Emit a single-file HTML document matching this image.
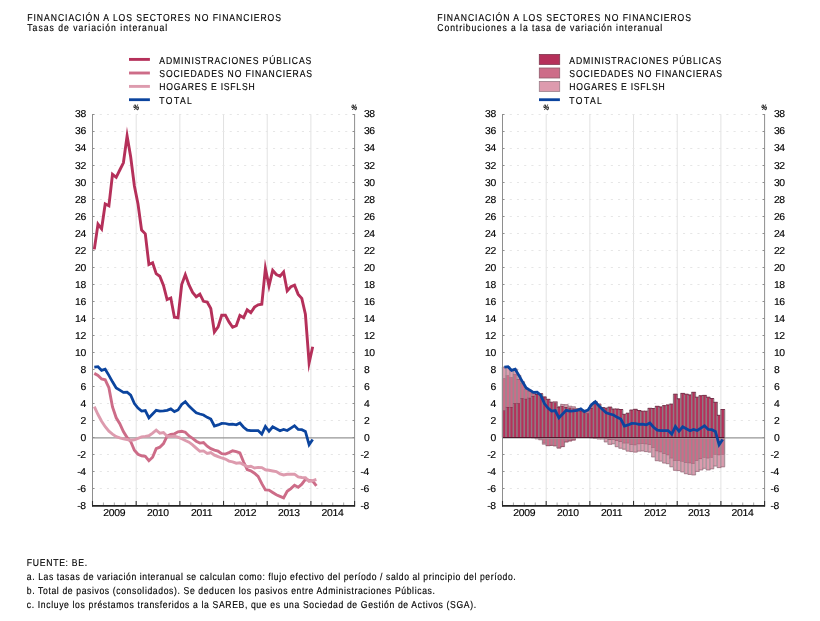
<!DOCTYPE html>
<html lang="es"><head><meta charset="utf-8"><title>Financiación a los sectores no financieros</title>
<style>html,body{margin:0;padding:0;background:#fff}svg{display:block}text{text-rendering:geometricPrecision;font-family:"Liberation Sans",sans-serif;font-size:10px;fill:#000;stroke:#000;stroke-width:0.15px}.ax{font-size:10px}.pc{font-size:8px;font-weight:bold;font-style:italic}</style></head><body>
<svg width="820" height="621" viewBox="0 0 820 621">
<rect width="820" height="621" fill="#fff"/>
<text transform="translate(27.3 21.1) scale(0.86 1)" textLength="295.0">FINANCIACIÓN A LOS SECTORES NO FINANCIEROS</text>
<text transform="translate(27.3 31.1) scale(0.86 1)" textLength="162.7">Tasas de variación interanual</text>
<text transform="translate(437.3 21.1) scale(0.86 1)" textLength="295.0">FINANCIACIÓN A LOS SECTORES NO FINANCIEROS</text>
<text transform="translate(437.3 31.1) scale(0.86 1)" textLength="261.6">Contribuciones a la tasa de variación interanual</text>
<line x1="129.0" y1="59.4" x2="149.9" y2="59.4" stroke="#b5305a" stroke-width="2.9"/>
<line x1="129.0" y1="73.0" x2="149.9" y2="73.0" stroke="#cd6c88" stroke-width="2.9"/>
<line x1="129.0" y1="86.4" x2="149.9" y2="86.4" stroke="#dd9bae" stroke-width="2.9"/>
<line x1="129.0" y1="99.7" x2="149.9" y2="99.7" stroke="#0b449e" stroke-width="2.8"/>
<text transform="translate(159.3 64.2) scale(0.86 1)" textLength="176.7">ADMINISTRACIONES PÚBLICAS</text>
<text transform="translate(159.3 76.7) scale(0.86 1)" textLength="177.6">SOCIEDADES NO FINANCIERAS</text>
<text transform="translate(159.3 90.1) scale(0.86 1)" textLength="110.9">HOGARES E ISFLSH</text>
<text transform="translate(159.3 103.5) scale(0.86 1)" textLength="37.8">TOTAL</text>
<rect x="539.3" y="54.4" width="20.4" height="10" fill="#b5305a" stroke="#80384f" stroke-width="0.8"/>
<rect x="539.3" y="68.0" width="20.4" height="10" fill="#cd6c88" stroke="#8f5c6d" stroke-width="0.8"/>
<rect x="539.3" y="81.4" width="20.4" height="10" fill="#dd9bae" stroke="#9a7c88" stroke-width="0.8"/>
<line x1="539.0" y1="99.7" x2="559.9" y2="99.7" stroke="#0b449e" stroke-width="2.8"/>
<text transform="translate(569.3 64.2) scale(0.86 1)" textLength="176.7">ADMINISTRACIONES PÚBLICAS</text>
<text transform="translate(569.3 76.7) scale(0.86 1)" textLength="177.6">SOCIEDADES NO FINANCIERAS</text>
<text transform="translate(569.3 90.1) scale(0.86 1)" textLength="110.9">HOGARES E ISFLSH</text>
<text transform="translate(569.3 103.5) scale(0.86 1)" textLength="37.8">TOTAL</text>
<line x1="136.18" y1="114.5" x2="136.18" y2="505.5" stroke="#e2e2e2" stroke-width="1"/>
<line x1="179.86" y1="114.5" x2="179.86" y2="505.5" stroke="#e2e2e2" stroke-width="1"/>
<line x1="223.54" y1="114.5" x2="223.54" y2="505.5" stroke="#e2e2e2" stroke-width="1"/>
<line x1="267.22" y1="114.5" x2="267.22" y2="505.5" stroke="#e2e2e2" stroke-width="1"/>
<line x1="310.90" y1="114.5" x2="310.90" y2="505.5" stroke="#e2e2e2" stroke-width="1"/>
<line x1="92.50" y1="488.50" x2="354.60" y2="488.50" stroke="#e6e6e6" stroke-width="1" stroke-dasharray="2.1 5.12"/>
<line x1="92.50" y1="471.50" x2="354.60" y2="471.50" stroke="#e6e6e6" stroke-width="1" stroke-dasharray="2.1 5.12"/>
<line x1="92.50" y1="454.50" x2="354.60" y2="454.50" stroke="#e6e6e6" stroke-width="1" stroke-dasharray="2.1 5.12"/>
<line x1="92.50" y1="420.50" x2="354.60" y2="420.50" stroke="#e6e6e6" stroke-width="1" stroke-dasharray="2.1 5.12"/>
<line x1="92.50" y1="403.50" x2="354.60" y2="403.50" stroke="#e6e6e6" stroke-width="1" stroke-dasharray="2.1 5.12"/>
<line x1="92.50" y1="386.50" x2="354.60" y2="386.50" stroke="#e6e6e6" stroke-width="1" stroke-dasharray="2.1 5.12"/>
<line x1="92.50" y1="369.50" x2="354.60" y2="369.50" stroke="#e6e6e6" stroke-width="1" stroke-dasharray="2.1 5.12"/>
<line x1="92.50" y1="352.50" x2="354.60" y2="352.50" stroke="#e6e6e6" stroke-width="1" stroke-dasharray="2.1 5.12"/>
<line x1="92.50" y1="335.50" x2="354.60" y2="335.50" stroke="#e6e6e6" stroke-width="1" stroke-dasharray="2.1 5.12"/>
<line x1="92.50" y1="318.50" x2="354.60" y2="318.50" stroke="#e6e6e6" stroke-width="1" stroke-dasharray="2.1 5.12"/>
<line x1="92.50" y1="301.50" x2="354.60" y2="301.50" stroke="#e6e6e6" stroke-width="1" stroke-dasharray="2.1 5.12"/>
<line x1="92.50" y1="284.50" x2="354.60" y2="284.50" stroke="#e6e6e6" stroke-width="1" stroke-dasharray="2.1 5.12"/>
<line x1="92.50" y1="267.50" x2="354.60" y2="267.50" stroke="#e6e6e6" stroke-width="1" stroke-dasharray="2.1 5.12"/>
<line x1="92.50" y1="250.50" x2="354.60" y2="250.50" stroke="#e6e6e6" stroke-width="1" stroke-dasharray="2.1 5.12"/>
<line x1="92.50" y1="233.50" x2="354.60" y2="233.50" stroke="#e6e6e6" stroke-width="1" stroke-dasharray="2.1 5.12"/>
<line x1="92.50" y1="216.50" x2="354.60" y2="216.50" stroke="#e6e6e6" stroke-width="1" stroke-dasharray="2.1 5.12"/>
<line x1="92.50" y1="199.50" x2="354.60" y2="199.50" stroke="#e6e6e6" stroke-width="1" stroke-dasharray="2.1 5.12"/>
<line x1="92.50" y1="182.50" x2="354.60" y2="182.50" stroke="#e6e6e6" stroke-width="1" stroke-dasharray="2.1 5.12"/>
<line x1="92.50" y1="165.50" x2="354.60" y2="165.50" stroke="#e6e6e6" stroke-width="1" stroke-dasharray="2.1 5.12"/>
<line x1="92.50" y1="148.50" x2="354.60" y2="148.50" stroke="#e6e6e6" stroke-width="1" stroke-dasharray="2.1 5.12"/>
<line x1="92.50" y1="131.50" x2="354.60" y2="131.50" stroke="#e6e6e6" stroke-width="1" stroke-dasharray="2.1 5.12"/>
<line x1="92.50" y1="114.50" x2="354.60" y2="114.50" stroke="#e6e6e6" stroke-width="1" stroke-dasharray="2.1 5.12"/>
<line x1="92.50" y1="437.80" x2="354.60" y2="437.80" stroke="#969696" stroke-width="1.3"/>
<g fill="none" stroke-linejoin="miter" stroke-miterlimit="10" stroke-linecap="butt">
<polyline points="94.3,373.4 98.0,375.4 101.6,379.0 105.2,379.8 108.9,387.7 112.5,406.9 116.2,417.8 119.8,423.7 123.4,431.5 127.1,437.6 130.7,441.5 134.4,450.2 138.0,454.3 141.6,455.8 145.3,456.3 148.9,460.7 152.6,457.2 156.2,448.6 159.8,447.2 163.5,443.6 167.1,436.2 170.8,434.5 174.4,433.8 178.0,431.8 181.7,431.3 185.3,432.2 189.0,436.0 192.6,438.4 196.2,441.2 199.9,443.1 203.5,442.5 207.2,446.2 210.8,448.7 214.4,450.2 218.1,451.2 221.7,453.6 225.4,454.1 229.0,452.6 232.6,450.8 236.3,451.6 239.9,452.9 243.6,462.0 247.2,469.6 250.8,470.8 254.5,473.2 258.1,476.3 261.8,483.6 265.4,489.9 269.0,490.1 272.7,492.5 276.3,494.8 280.0,496.3 283.6,497.9 287.2,491.3 290.9,488.6 294.5,485.2 298.2,487.3 301.8,484.2 305.4,479.3 309.1,480.3 312.7,481.1 316.4,485.9" stroke="#cd6c88" stroke-width="2.9"/>
<polyline points="94.3,406.6 98.0,414.5 101.6,421.2 105.2,426.7 108.9,431.2 112.5,434.1 116.2,436.6 119.8,437.9 123.4,438.8 127.1,439.5 130.7,440.2 134.4,439.8 138.0,438.4 141.6,436.9 145.3,436.4 148.9,435.8 152.6,433.2 156.2,430.2 159.8,433.2 163.5,432.5 167.1,436.2 170.8,436.6 174.4,436.2 178.0,437.1 181.7,438.8 185.3,440.5 189.0,442.2 192.6,444.9 196.2,448.1 199.9,451.3 203.5,450.9 207.2,453.5 210.8,452.6 214.4,455.1 218.1,456.6 221.7,458.0 225.4,459.1 229.0,461.1 232.6,461.8 236.3,463.2 239.9,462.7 243.6,464.7 247.2,466.6 250.8,466.3 254.5,468.0 258.1,467.4 261.8,467.6 265.4,469.8 269.0,470.3 272.7,471.0 276.3,471.6 280.0,473.8 283.6,475.0 287.2,474.3 290.9,474.2 294.5,474.1 298.2,476.9 301.8,477.5 305.4,477.7 309.1,481.4 312.7,480.6 316.4,479.5" stroke="#dd9bae" stroke-width="2.9"/>
<polyline points="94.3,249.4 98.0,224.1 101.6,228.8 105.2,204.0 108.9,205.8 112.5,174.3 116.2,177.3 119.8,170.0 123.4,162.8 127.1,136.0 130.7,157.0 134.4,186.0 138.0,204.0 141.6,230.1 145.3,233.8 148.9,264.5 152.6,262.8 156.2,273.7 159.8,276.2 163.5,285.4 167.1,299.5 170.8,298.0 174.4,317.2 178.0,317.9 181.7,284.5 185.3,274.8 189.0,285.0 192.6,292.5 196.2,296.8 199.9,294.2 203.5,301.3 207.2,302.1 210.8,308.5 214.4,332.0 218.1,326.9 221.7,315.2 225.4,315.2 229.0,321.9 232.6,327.2 236.3,325.6 239.9,315.5 243.6,317.7 247.2,309.8 250.8,312.7 254.5,307.1 258.1,304.8 261.8,304.3 265.4,268.4 269.0,286.0 272.7,270.3 276.3,274.5 280.0,276.2 283.6,272.0 287.2,290.9 290.9,286.7 294.5,285.1 298.2,294.4 301.8,298.4 305.4,314.3 309.1,362.9 312.7,346.7" stroke="#b5305a" stroke-width="2.9"/>
<polyline points="94.3,367.1 98.0,366.7 101.6,370.4 105.2,369.2 108.9,375.4 112.5,381.8 116.2,388.0 119.8,390.2 123.4,392.4 127.1,392.2 130.7,395.2 134.4,403.6 138.0,408.1 141.6,411.1 145.3,410.6 148.9,417.8 152.6,414.0 156.2,410.3 159.8,411.1 163.5,410.8 167.1,410.3 170.8,408.9 174.4,411.6 178.0,409.9 181.7,404.4 185.3,401.6 189.0,406.1 192.6,409.4 196.2,412.8 199.9,414.0 203.5,415.0 207.2,417.3 210.8,419.0 214.4,426.0 218.1,424.9 221.7,423.4 225.4,423.5 229.0,424.3 232.6,424.2 236.3,424.8 239.9,423.0 243.6,427.2 247.2,430.1 250.8,430.5 254.5,430.5 258.1,430.5 261.8,434.1 265.4,426.4 269.0,431.2 272.7,426.8 276.3,428.8 280.0,430.8 283.6,429.5 287.2,430.5 290.9,428.1 294.5,425.7 298.2,429.5 301.8,429.7 305.4,431.5 309.1,444.7 312.7,439.5" stroke="#0b449e" stroke-width="2.75"/>
</g>
<line x1="92.50" y1="114.00" x2="92.50" y2="506.50" stroke="#8e8e8e" stroke-width="1"/>
<line x1="354.60" y1="114.00" x2="354.60" y2="506.50" stroke="#8e8e8e" stroke-width="1"/>
<line x1="92.50" y1="505.50" x2="94.50" y2="505.50" stroke="#8e8e8e" stroke-width="1"/>
<line x1="352.60" y1="505.50" x2="354.60" y2="505.50" stroke="#8e8e8e" stroke-width="1"/>
<line x1="92.50" y1="488.50" x2="94.50" y2="488.50" stroke="#8e8e8e" stroke-width="1"/>
<line x1="352.60" y1="488.50" x2="354.60" y2="488.50" stroke="#8e8e8e" stroke-width="1"/>
<line x1="92.50" y1="471.50" x2="94.50" y2="471.50" stroke="#8e8e8e" stroke-width="1"/>
<line x1="352.60" y1="471.50" x2="354.60" y2="471.50" stroke="#8e8e8e" stroke-width="1"/>
<line x1="92.50" y1="454.50" x2="94.50" y2="454.50" stroke="#8e8e8e" stroke-width="1"/>
<line x1="352.60" y1="454.50" x2="354.60" y2="454.50" stroke="#8e8e8e" stroke-width="1"/>
<line x1="92.50" y1="437.50" x2="94.50" y2="437.50" stroke="#8e8e8e" stroke-width="1"/>
<line x1="352.60" y1="437.50" x2="354.60" y2="437.50" stroke="#8e8e8e" stroke-width="1"/>
<line x1="92.50" y1="420.50" x2="94.50" y2="420.50" stroke="#8e8e8e" stroke-width="1"/>
<line x1="352.60" y1="420.50" x2="354.60" y2="420.50" stroke="#8e8e8e" stroke-width="1"/>
<line x1="92.50" y1="403.50" x2="94.50" y2="403.50" stroke="#8e8e8e" stroke-width="1"/>
<line x1="352.60" y1="403.50" x2="354.60" y2="403.50" stroke="#8e8e8e" stroke-width="1"/>
<line x1="92.50" y1="386.50" x2="94.50" y2="386.50" stroke="#8e8e8e" stroke-width="1"/>
<line x1="352.60" y1="386.50" x2="354.60" y2="386.50" stroke="#8e8e8e" stroke-width="1"/>
<line x1="92.50" y1="369.50" x2="94.50" y2="369.50" stroke="#8e8e8e" stroke-width="1"/>
<line x1="352.60" y1="369.50" x2="354.60" y2="369.50" stroke="#8e8e8e" stroke-width="1"/>
<line x1="92.50" y1="352.50" x2="94.50" y2="352.50" stroke="#8e8e8e" stroke-width="1"/>
<line x1="352.60" y1="352.50" x2="354.60" y2="352.50" stroke="#8e8e8e" stroke-width="1"/>
<line x1="92.50" y1="335.50" x2="94.50" y2="335.50" stroke="#8e8e8e" stroke-width="1"/>
<line x1="352.60" y1="335.50" x2="354.60" y2="335.50" stroke="#8e8e8e" stroke-width="1"/>
<line x1="92.50" y1="318.50" x2="94.50" y2="318.50" stroke="#8e8e8e" stroke-width="1"/>
<line x1="352.60" y1="318.50" x2="354.60" y2="318.50" stroke="#8e8e8e" stroke-width="1"/>
<line x1="92.50" y1="301.50" x2="94.50" y2="301.50" stroke="#8e8e8e" stroke-width="1"/>
<line x1="352.60" y1="301.50" x2="354.60" y2="301.50" stroke="#8e8e8e" stroke-width="1"/>
<line x1="92.50" y1="284.50" x2="94.50" y2="284.50" stroke="#8e8e8e" stroke-width="1"/>
<line x1="352.60" y1="284.50" x2="354.60" y2="284.50" stroke="#8e8e8e" stroke-width="1"/>
<line x1="92.50" y1="267.50" x2="94.50" y2="267.50" stroke="#8e8e8e" stroke-width="1"/>
<line x1="352.60" y1="267.50" x2="354.60" y2="267.50" stroke="#8e8e8e" stroke-width="1"/>
<line x1="92.50" y1="250.50" x2="94.50" y2="250.50" stroke="#8e8e8e" stroke-width="1"/>
<line x1="352.60" y1="250.50" x2="354.60" y2="250.50" stroke="#8e8e8e" stroke-width="1"/>
<line x1="92.50" y1="233.50" x2="94.50" y2="233.50" stroke="#8e8e8e" stroke-width="1"/>
<line x1="352.60" y1="233.50" x2="354.60" y2="233.50" stroke="#8e8e8e" stroke-width="1"/>
<line x1="92.50" y1="216.50" x2="94.50" y2="216.50" stroke="#8e8e8e" stroke-width="1"/>
<line x1="352.60" y1="216.50" x2="354.60" y2="216.50" stroke="#8e8e8e" stroke-width="1"/>
<line x1="92.50" y1="199.50" x2="94.50" y2="199.50" stroke="#8e8e8e" stroke-width="1"/>
<line x1="352.60" y1="199.50" x2="354.60" y2="199.50" stroke="#8e8e8e" stroke-width="1"/>
<line x1="92.50" y1="182.50" x2="94.50" y2="182.50" stroke="#8e8e8e" stroke-width="1"/>
<line x1="352.60" y1="182.50" x2="354.60" y2="182.50" stroke="#8e8e8e" stroke-width="1"/>
<line x1="92.50" y1="165.50" x2="94.50" y2="165.50" stroke="#8e8e8e" stroke-width="1"/>
<line x1="352.60" y1="165.50" x2="354.60" y2="165.50" stroke="#8e8e8e" stroke-width="1"/>
<line x1="92.50" y1="148.50" x2="94.50" y2="148.50" stroke="#8e8e8e" stroke-width="1"/>
<line x1="352.60" y1="148.50" x2="354.60" y2="148.50" stroke="#8e8e8e" stroke-width="1"/>
<line x1="92.50" y1="131.50" x2="94.50" y2="131.50" stroke="#8e8e8e" stroke-width="1"/>
<line x1="352.60" y1="131.50" x2="354.60" y2="131.50" stroke="#8e8e8e" stroke-width="1"/>
<line x1="92.50" y1="114.50" x2="94.50" y2="114.50" stroke="#8e8e8e" stroke-width="1"/>
<line x1="352.60" y1="114.50" x2="354.60" y2="114.50" stroke="#8e8e8e" stroke-width="1"/>
<line x1="92.50" y1="500.90" x2="92.50" y2="505.50" stroke="#333" stroke-width="1.1"/>
<line x1="103.42" y1="502.50" x2="103.42" y2="505.50" stroke="#a8a8a8" stroke-width="1"/>
<line x1="114.34" y1="502.50" x2="114.34" y2="505.50" stroke="#a8a8a8" stroke-width="1"/>
<line x1="125.26" y1="502.50" x2="125.26" y2="505.50" stroke="#a8a8a8" stroke-width="1"/>
<line x1="136.18" y1="500.90" x2="136.18" y2="505.50" stroke="#333" stroke-width="1.1"/>
<line x1="147.10" y1="502.50" x2="147.10" y2="505.50" stroke="#a8a8a8" stroke-width="1"/>
<line x1="158.02" y1="502.50" x2="158.02" y2="505.50" stroke="#a8a8a8" stroke-width="1"/>
<line x1="168.94" y1="502.50" x2="168.94" y2="505.50" stroke="#a8a8a8" stroke-width="1"/>
<line x1="179.86" y1="500.90" x2="179.86" y2="505.50" stroke="#333" stroke-width="1.1"/>
<line x1="190.78" y1="502.50" x2="190.78" y2="505.50" stroke="#a8a8a8" stroke-width="1"/>
<line x1="201.70" y1="502.50" x2="201.70" y2="505.50" stroke="#a8a8a8" stroke-width="1"/>
<line x1="212.62" y1="502.50" x2="212.62" y2="505.50" stroke="#a8a8a8" stroke-width="1"/>
<line x1="223.54" y1="500.90" x2="223.54" y2="505.50" stroke="#333" stroke-width="1.1"/>
<line x1="234.46" y1="502.50" x2="234.46" y2="505.50" stroke="#a8a8a8" stroke-width="1"/>
<line x1="245.38" y1="502.50" x2="245.38" y2="505.50" stroke="#a8a8a8" stroke-width="1"/>
<line x1="256.30" y1="502.50" x2="256.30" y2="505.50" stroke="#a8a8a8" stroke-width="1"/>
<line x1="267.22" y1="500.90" x2="267.22" y2="505.50" stroke="#333" stroke-width="1.1"/>
<line x1="278.14" y1="502.50" x2="278.14" y2="505.50" stroke="#a8a8a8" stroke-width="1"/>
<line x1="289.06" y1="502.50" x2="289.06" y2="505.50" stroke="#a8a8a8" stroke-width="1"/>
<line x1="299.98" y1="502.50" x2="299.98" y2="505.50" stroke="#a8a8a8" stroke-width="1"/>
<line x1="310.90" y1="500.90" x2="310.90" y2="505.50" stroke="#333" stroke-width="1.1"/>
<line x1="321.82" y1="502.50" x2="321.82" y2="505.50" stroke="#a8a8a8" stroke-width="1"/>
<line x1="332.74" y1="502.50" x2="332.74" y2="505.50" stroke="#a8a8a8" stroke-width="1"/>
<line x1="343.66" y1="502.50" x2="343.66" y2="505.50" stroke="#a8a8a8" stroke-width="1"/>
<line x1="354.58" y1="500.90" x2="354.58" y2="505.50" stroke="#333" stroke-width="1.1"/>
<line x1="92.00" y1="505.90" x2="355.10" y2="505.90" stroke="#222" stroke-width="1.9"/>
<text transform="translate(77.3 508.9) scale(1.04 1)" textLength="8.5" class="ax">-8</text>
<text transform="translate(360.5 508.9) scale(1.04 1)" textLength="8.5" class="ax">-8</text>
<text transform="translate(77.3 491.9) scale(1.04 1)" textLength="8.5" class="ax">-6</text>
<text transform="translate(360.5 491.9) scale(1.04 1)" textLength="8.5" class="ax">-6</text>
<text transform="translate(77.3 474.9) scale(1.04 1)" textLength="8.5" class="ax">-4</text>
<text transform="translate(360.5 474.9) scale(1.04 1)" textLength="8.5" class="ax">-4</text>
<text transform="translate(77.3 457.9) scale(1.04 1)" textLength="8.5" class="ax">-2</text>
<text transform="translate(360.5 457.9) scale(1.04 1)" textLength="8.5" class="ax">-2</text>
<text transform="translate(80.6 440.9) scale(1.04 1)" class="ax">0</text>
<text transform="translate(363.9 440.9) scale(1.04 1)" class="ax">0</text>
<text transform="translate(80.6 423.9) scale(1.04 1)" class="ax">2</text>
<text transform="translate(363.9 423.9) scale(1.04 1)" class="ax">2</text>
<text transform="translate(80.6 406.9) scale(1.04 1)" class="ax">4</text>
<text transform="translate(363.9 406.9) scale(1.04 1)" class="ax">4</text>
<text transform="translate(80.6 389.9) scale(1.04 1)" class="ax">6</text>
<text transform="translate(363.9 389.9) scale(1.04 1)" class="ax">6</text>
<text transform="translate(80.6 372.9) scale(1.04 1)" class="ax">8</text>
<text transform="translate(363.9 372.9) scale(1.04 1)" class="ax">8</text>
<text transform="translate(75.1 355.9) scale(1.04 1)" textLength="10.7" class="ax">10</text>
<text transform="translate(363.9 355.9) scale(1.04 1)" textLength="10.7" class="ax">10</text>
<text transform="translate(75.1 338.9) scale(1.04 1)" textLength="10.7" class="ax">12</text>
<text transform="translate(363.9 338.9) scale(1.04 1)" textLength="10.7" class="ax">12</text>
<text transform="translate(75.1 321.9) scale(1.04 1)" textLength="10.7" class="ax">14</text>
<text transform="translate(363.9 321.9) scale(1.04 1)" textLength="10.7" class="ax">14</text>
<text transform="translate(75.1 304.9) scale(1.04 1)" textLength="10.7" class="ax">16</text>
<text transform="translate(363.9 304.9) scale(1.04 1)" textLength="10.7" class="ax">16</text>
<text transform="translate(75.1 287.9) scale(1.04 1)" textLength="10.7" class="ax">18</text>
<text transform="translate(363.9 287.9) scale(1.04 1)" textLength="10.7" class="ax">18</text>
<text transform="translate(75.1 270.9) scale(1.04 1)" textLength="10.7" class="ax">20</text>
<text transform="translate(363.9 270.9) scale(1.04 1)" textLength="10.7" class="ax">20</text>
<text transform="translate(75.1 253.9) scale(1.04 1)" textLength="10.7" class="ax">22</text>
<text transform="translate(363.9 253.9) scale(1.04 1)" textLength="10.7" class="ax">22</text>
<text transform="translate(75.1 236.9) scale(1.04 1)" textLength="10.7" class="ax">24</text>
<text transform="translate(363.9 236.9) scale(1.04 1)" textLength="10.7" class="ax">24</text>
<text transform="translate(75.1 219.9) scale(1.04 1)" textLength="10.7" class="ax">26</text>
<text transform="translate(363.9 219.9) scale(1.04 1)" textLength="10.7" class="ax">26</text>
<text transform="translate(75.1 202.9) scale(1.04 1)" textLength="10.7" class="ax">28</text>
<text transform="translate(363.9 202.9) scale(1.04 1)" textLength="10.7" class="ax">28</text>
<text transform="translate(75.1 185.9) scale(1.04 1)" textLength="10.7" class="ax">30</text>
<text transform="translate(363.9 185.9) scale(1.04 1)" textLength="10.7" class="ax">30</text>
<text transform="translate(75.1 168.9) scale(1.04 1)" textLength="10.7" class="ax">32</text>
<text transform="translate(363.9 168.9) scale(1.04 1)" textLength="10.7" class="ax">32</text>
<text transform="translate(75.1 150.9) scale(1.04 1)" textLength="10.7" class="ax">34</text>
<text transform="translate(363.9 150.9) scale(1.04 1)" textLength="10.7" class="ax">34</text>
<text transform="translate(75.1 133.9) scale(1.04 1)" textLength="10.7" class="ax">36</text>
<text transform="translate(363.9 133.9) scale(1.04 1)" textLength="10.7" class="ax">36</text>
<text transform="translate(75.1 117.0) scale(1.04 1)" textLength="10.7" class="ax">38</text>
<text transform="translate(363.9 117.0) scale(1.04 1)" textLength="10.7" class="ax">38</text>
<text transform="translate(103.2 516.1) scale(1.04 1)" textLength="21.4" class="ax">2009</text>
<text transform="translate(146.9 516.1) scale(1.04 1)" textLength="21.4" class="ax">2010</text>
<text transform="translate(190.9 516.1) scale(1.04 1)" textLength="20.7" class="ax">2011</text>
<text transform="translate(234.3 516.1) scale(1.04 1)" textLength="21.4" class="ax">2012</text>
<text transform="translate(277.9 516.1) scale(1.04 1)" textLength="21.4" class="ax">2013</text>
<text transform="translate(321.6 516.1) scale(1.04 1)" textLength="21.4" class="ax">2014</text>
<text transform="translate(133.3 109.8) scale(0.8 1)" class="pc">%</text>
<text transform="translate(351.3 109.8) scale(0.8 1)" class="pc">%</text>
<line x1="546.18" y1="114.5" x2="546.18" y2="505.5" stroke="#e2e2e2" stroke-width="1"/>
<line x1="589.86" y1="114.5" x2="589.86" y2="505.5" stroke="#e2e2e2" stroke-width="1"/>
<line x1="633.54" y1="114.5" x2="633.54" y2="505.5" stroke="#e2e2e2" stroke-width="1"/>
<line x1="677.22" y1="114.5" x2="677.22" y2="505.5" stroke="#e2e2e2" stroke-width="1"/>
<line x1="720.90" y1="114.5" x2="720.90" y2="505.5" stroke="#e2e2e2" stroke-width="1"/>
<line x1="502.50" y1="488.50" x2="764.60" y2="488.50" stroke="#e6e6e6" stroke-width="1" stroke-dasharray="2.1 5.12"/>
<line x1="502.50" y1="471.50" x2="764.60" y2="471.50" stroke="#e6e6e6" stroke-width="1" stroke-dasharray="2.1 5.12"/>
<line x1="502.50" y1="454.50" x2="764.60" y2="454.50" stroke="#e6e6e6" stroke-width="1" stroke-dasharray="2.1 5.12"/>
<line x1="502.50" y1="420.50" x2="764.60" y2="420.50" stroke="#e6e6e6" stroke-width="1" stroke-dasharray="2.1 5.12"/>
<line x1="502.50" y1="403.50" x2="764.60" y2="403.50" stroke="#e6e6e6" stroke-width="1" stroke-dasharray="2.1 5.12"/>
<line x1="502.50" y1="386.50" x2="764.60" y2="386.50" stroke="#e6e6e6" stroke-width="1" stroke-dasharray="2.1 5.12"/>
<line x1="502.50" y1="369.50" x2="764.60" y2="369.50" stroke="#e6e6e6" stroke-width="1" stroke-dasharray="2.1 5.12"/>
<line x1="502.50" y1="352.50" x2="764.60" y2="352.50" stroke="#e6e6e6" stroke-width="1" stroke-dasharray="2.1 5.12"/>
<line x1="502.50" y1="335.50" x2="764.60" y2="335.50" stroke="#e6e6e6" stroke-width="1" stroke-dasharray="2.1 5.12"/>
<line x1="502.50" y1="318.50" x2="764.60" y2="318.50" stroke="#e6e6e6" stroke-width="1" stroke-dasharray="2.1 5.12"/>
<line x1="502.50" y1="301.50" x2="764.60" y2="301.50" stroke="#e6e6e6" stroke-width="1" stroke-dasharray="2.1 5.12"/>
<line x1="502.50" y1="284.50" x2="764.60" y2="284.50" stroke="#e6e6e6" stroke-width="1" stroke-dasharray="2.1 5.12"/>
<line x1="502.50" y1="267.50" x2="764.60" y2="267.50" stroke="#e6e6e6" stroke-width="1" stroke-dasharray="2.1 5.12"/>
<line x1="502.50" y1="250.50" x2="764.60" y2="250.50" stroke="#e6e6e6" stroke-width="1" stroke-dasharray="2.1 5.12"/>
<line x1="502.50" y1="233.50" x2="764.60" y2="233.50" stroke="#e6e6e6" stroke-width="1" stroke-dasharray="2.1 5.12"/>
<line x1="502.50" y1="216.50" x2="764.60" y2="216.50" stroke="#e6e6e6" stroke-width="1" stroke-dasharray="2.1 5.12"/>
<line x1="502.50" y1="199.50" x2="764.60" y2="199.50" stroke="#e6e6e6" stroke-width="1" stroke-dasharray="2.1 5.12"/>
<line x1="502.50" y1="182.50" x2="764.60" y2="182.50" stroke="#e6e6e6" stroke-width="1" stroke-dasharray="2.1 5.12"/>
<line x1="502.50" y1="165.50" x2="764.60" y2="165.50" stroke="#e6e6e6" stroke-width="1" stroke-dasharray="2.1 5.12"/>
<line x1="502.50" y1="148.50" x2="764.60" y2="148.50" stroke="#e6e6e6" stroke-width="1" stroke-dasharray="2.1 5.12"/>
<line x1="502.50" y1="131.50" x2="764.60" y2="131.50" stroke="#e6e6e6" stroke-width="1" stroke-dasharray="2.1 5.12"/>
<line x1="502.50" y1="114.50" x2="764.60" y2="114.50" stroke="#e6e6e6" stroke-width="1" stroke-dasharray="2.1 5.12"/>
<path d="M502.50 505.50h2M764.60 505.50h-2" stroke="#8e8e8e" stroke-width="1" fill="none"/>
<path d="M502.50 488.50h2M764.60 488.50h-2" stroke="#8e8e8e" stroke-width="1" fill="none"/>
<path d="M502.50 471.50h2M764.60 471.50h-2" stroke="#8e8e8e" stroke-width="1" fill="none"/>
<path d="M502.50 454.50h2M764.60 454.50h-2" stroke="#8e8e8e" stroke-width="1" fill="none"/>
<path d="M502.50 437.50h2M764.60 437.50h-2" stroke="#8e8e8e" stroke-width="1" fill="none"/>
<path d="M502.50 420.50h2M764.60 420.50h-2" stroke="#8e8e8e" stroke-width="1" fill="none"/>
<path d="M502.50 403.50h2M764.60 403.50h-2" stroke="#8e8e8e" stroke-width="1" fill="none"/>
<path d="M502.50 386.50h2M764.60 386.50h-2" stroke="#8e8e8e" stroke-width="1" fill="none"/>
<path d="M502.50 369.50h2M764.60 369.50h-2" stroke="#8e8e8e" stroke-width="1" fill="none"/>
<path d="M502.50 352.50h2M764.60 352.50h-2" stroke="#8e8e8e" stroke-width="1" fill="none"/>
<path d="M502.50 335.50h2M764.60 335.50h-2" stroke="#8e8e8e" stroke-width="1" fill="none"/>
<path d="M502.50 318.50h2M764.60 318.50h-2" stroke="#8e8e8e" stroke-width="1" fill="none"/>
<path d="M502.50 301.50h2M764.60 301.50h-2" stroke="#8e8e8e" stroke-width="1" fill="none"/>
<path d="M502.50 284.50h2M764.60 284.50h-2" stroke="#8e8e8e" stroke-width="1" fill="none"/>
<path d="M502.50 267.50h2M764.60 267.50h-2" stroke="#8e8e8e" stroke-width="1" fill="none"/>
<path d="M502.50 250.50h2M764.60 250.50h-2" stroke="#8e8e8e" stroke-width="1" fill="none"/>
<path d="M502.50 233.50h2M764.60 233.50h-2" stroke="#8e8e8e" stroke-width="1" fill="none"/>
<path d="M502.50 216.50h2M764.60 216.50h-2" stroke="#8e8e8e" stroke-width="1" fill="none"/>
<path d="M502.50 199.50h2M764.60 199.50h-2" stroke="#8e8e8e" stroke-width="1" fill="none"/>
<path d="M502.50 182.50h2M764.60 182.50h-2" stroke="#8e8e8e" stroke-width="1" fill="none"/>
<path d="M502.50 165.50h2M764.60 165.50h-2" stroke="#8e8e8e" stroke-width="1" fill="none"/>
<path d="M502.50 148.50h2M764.60 148.50h-2" stroke="#8e8e8e" stroke-width="1" fill="none"/>
<path d="M502.50 131.50h2M764.60 131.50h-2" stroke="#8e8e8e" stroke-width="1" fill="none"/>
<path d="M502.50 114.50h2M764.60 114.50h-2" stroke="#8e8e8e" stroke-width="1" fill="none"/>
<rect x="502.50" y="410.50" width="3.64" height="27.00" fill="#b5305a"/>
<path d="M502.50 410.50V437.50M506.14 410.50V437.50" stroke="#8f7b83" stroke-width="1.4" fill="none"/>
<path d="M502.20 410.50H506.44" stroke="#6e2440" stroke-width="0.9" fill="none"/>
<rect x="502.50" y="378.40" width="3.64" height="32.10" fill="#cd6c88"/>
<path d="M502.50 378.40V410.50M506.14 378.40V410.50" stroke="#9c878f" stroke-width="1.4" fill="none"/>
<path d="M502.20 378.40H506.44" stroke="#8e4a60" stroke-width="0.9" fill="none"/>
<rect x="502.50" y="367.10" width="3.64" height="11.30" fill="#dd9bae"/>
<path d="M502.50 367.10V378.40M506.14 367.10V378.40" stroke="#aa979e" stroke-width="1.4" fill="none"/>
<path d="M502.20 367.10H506.44" stroke="#a07080" stroke-width="0.9" fill="none"/>
<rect x="506.14" y="406.90" width="3.64" height="30.60" fill="#b5305a"/>
<path d="M506.14 406.90V437.50M509.78 406.90V437.50" stroke="#8f7b83" stroke-width="1.4" fill="none"/>
<path d="M505.84 406.90H510.08" stroke="#6e2440" stroke-width="0.9" fill="none"/>
<rect x="506.14" y="375.50" width="3.64" height="31.40" fill="#cd6c88"/>
<path d="M506.14 375.50V406.90M509.78 375.50V406.90" stroke="#9c878f" stroke-width="1.4" fill="none"/>
<path d="M505.84 375.50H510.08" stroke="#8e4a60" stroke-width="0.9" fill="none"/>
<rect x="506.14" y="366.70" width="3.64" height="8.80" fill="#dd9bae"/>
<path d="M506.14 366.70V375.50M509.78 366.70V375.50" stroke="#aa979e" stroke-width="1.4" fill="none"/>
<path d="M505.84 366.70H510.08" stroke="#a07080" stroke-width="0.9" fill="none"/>
<rect x="509.78" y="406.90" width="3.64" height="30.60" fill="#b5305a"/>
<path d="M509.78 406.90V437.50M513.42 406.90V437.50" stroke="#8f7b83" stroke-width="1.4" fill="none"/>
<path d="M509.48 406.90H513.72" stroke="#6e2440" stroke-width="0.9" fill="none"/>
<rect x="509.78" y="377.40" width="3.64" height="29.50" fill="#cd6c88"/>
<path d="M509.78 377.40V406.90M513.42 377.40V406.90" stroke="#9c878f" stroke-width="1.4" fill="none"/>
<path d="M509.48 377.40H513.72" stroke="#8e4a60" stroke-width="0.9" fill="none"/>
<rect x="509.78" y="370.40" width="3.64" height="7.00" fill="#dd9bae"/>
<path d="M509.78 370.40V377.40M513.42 370.40V377.40" stroke="#aa979e" stroke-width="1.4" fill="none"/>
<path d="M509.48 370.40H513.72" stroke="#a07080" stroke-width="0.9" fill="none"/>
<rect x="513.42" y="403.20" width="3.64" height="34.30" fill="#b5305a"/>
<path d="M513.42 403.20V437.50M517.06 403.20V437.50" stroke="#8f7b83" stroke-width="1.4" fill="none"/>
<path d="M513.12 403.20H517.36" stroke="#6e2440" stroke-width="0.9" fill="none"/>
<rect x="513.42" y="374.30" width="3.64" height="28.90" fill="#cd6c88"/>
<path d="M513.42 374.30V403.20M517.06 374.30V403.20" stroke="#9c878f" stroke-width="1.4" fill="none"/>
<path d="M513.12 374.30H517.36" stroke="#8e4a60" stroke-width="0.9" fill="none"/>
<rect x="513.42" y="369.20" width="3.64" height="5.10" fill="#dd9bae"/>
<path d="M513.42 369.20V374.30M517.06 369.20V374.30" stroke="#aa979e" stroke-width="1.4" fill="none"/>
<path d="M513.12 369.20H517.36" stroke="#a07080" stroke-width="0.9" fill="none"/>
<rect x="517.06" y="403.20" width="3.64" height="34.30" fill="#b5305a"/>
<path d="M517.06 403.20V437.50M520.70 403.20V437.50" stroke="#8f7b83" stroke-width="1.4" fill="none"/>
<path d="M516.76 403.20H521.00" stroke="#6e2440" stroke-width="0.9" fill="none"/>
<rect x="517.06" y="379.00" width="3.64" height="24.20" fill="#cd6c88"/>
<path d="M517.06 379.00V403.20M520.70 379.00V403.20" stroke="#9c878f" stroke-width="1.4" fill="none"/>
<path d="M516.76 379.00H521.00" stroke="#8e4a60" stroke-width="0.9" fill="none"/>
<rect x="517.06" y="375.40" width="3.64" height="3.60" fill="#dd9bae"/>
<path d="M517.06 375.40V379.00M520.70 375.40V379.00" stroke="#aa979e" stroke-width="1.4" fill="none"/>
<path d="M516.76 375.40H521.00" stroke="#a07080" stroke-width="0.9" fill="none"/>
<rect x="520.70" y="398.20" width="3.64" height="39.30" fill="#b5305a"/>
<path d="M520.70 398.20V437.50M524.34 398.20V437.50" stroke="#8f7b83" stroke-width="1.4" fill="none"/>
<path d="M520.40 398.20H524.64" stroke="#6e2440" stroke-width="0.9" fill="none"/>
<rect x="520.70" y="383.36" width="3.64" height="14.84" fill="#cd6c88"/>
<path d="M520.70 383.36V398.20M524.34 383.36V398.20" stroke="#9c878f" stroke-width="1.4" fill="none"/>
<path d="M520.40 383.36H524.64" stroke="#8e4a60" stroke-width="0.9" fill="none"/>
<rect x="520.70" y="381.80" width="3.64" height="1.56" fill="#dd9bae"/>
<path d="M520.70 381.80V383.36M524.34 381.80V383.36" stroke="#aa979e" stroke-width="1.4" fill="none"/>
<path d="M520.40 381.80H524.64" stroke="#a07080" stroke-width="0.9" fill="none"/>
<rect x="524.34" y="398.70" width="3.64" height="38.80" fill="#b5305a"/>
<path d="M524.34 398.70V437.50M527.98 398.70V437.50" stroke="#8f7b83" stroke-width="1.4" fill="none"/>
<path d="M524.04 398.70H528.28" stroke="#6e2440" stroke-width="0.9" fill="none"/>
<rect x="524.34" y="389.17" width="3.64" height="9.53" fill="#cd6c88"/>
<path d="M524.34 389.17V398.70M527.98 389.17V398.70" stroke="#9c878f" stroke-width="1.4" fill="none"/>
<path d="M524.04 389.17H528.28" stroke="#8e4a60" stroke-width="0.9" fill="none"/>
<rect x="524.34" y="388.00" width="3.64" height="1.17" fill="#dd9bae"/>
<path d="M524.34 388.00V389.17M527.98 388.00V389.17" stroke="#aa979e" stroke-width="1.4" fill="none"/>
<path d="M524.04 388.00H528.28" stroke="#a07080" stroke-width="0.9" fill="none"/>
<rect x="527.98" y="397.70" width="3.64" height="39.80" fill="#b5305a"/>
<path d="M527.98 397.70V437.50M531.62 397.70V437.50" stroke="#8f7b83" stroke-width="1.4" fill="none"/>
<path d="M527.68 397.70H531.92" stroke="#6e2440" stroke-width="0.9" fill="none"/>
<rect x="527.98" y="391.03" width="3.64" height="6.67" fill="#cd6c88"/>
<path d="M527.98 391.03V397.70M531.62 391.03V397.70" stroke="#9c878f" stroke-width="1.4" fill="none"/>
<path d="M527.68 391.03H531.92" stroke="#8e4a60" stroke-width="0.9" fill="none"/>
<rect x="527.98" y="390.20" width="3.64" height="0.83" fill="#dd9bae"/>
<path d="M527.98 390.20V391.03M531.62 390.20V391.03" stroke="#aa979e" stroke-width="1.4" fill="none"/>
<path d="M527.68 390.20H531.92" stroke="#a07080" stroke-width="0.9" fill="none"/>
<rect x="531.62" y="395.90" width="3.64" height="41.60" fill="#b5305a"/>
<path d="M531.62 395.90V437.50M535.26 395.90V437.50" stroke="#8f7b83" stroke-width="1.4" fill="none"/>
<path d="M531.32 395.90H535.56" stroke="#6e2440" stroke-width="0.9" fill="none"/>
<rect x="531.62" y="393.01" width="3.64" height="2.89" fill="#cd6c88"/>
<path d="M531.62 393.01V395.90M535.26 393.01V395.90" stroke="#9c878f" stroke-width="1.4" fill="none"/>
<path d="M531.32 393.01H535.56" stroke="#8e4a60" stroke-width="0.9" fill="none"/>
<rect x="531.62" y="437.50" width="3.64" height="0.41" fill="#dd9bae"/>
<path d="M531.62 437.50V437.91M535.26 437.50V437.91" stroke="#aa979e" stroke-width="1.4" fill="none"/>
<path d="M531.32 437.91H535.56" stroke="#a07080" stroke-width="0.9" fill="none"/>
<rect x="535.26" y="394.50" width="3.64" height="43.00" fill="#b5305a"/>
<path d="M535.26 394.50V437.50M538.90 394.50V437.50" stroke="#8f7b83" stroke-width="1.4" fill="none"/>
<path d="M534.96 394.50H539.20" stroke="#6e2440" stroke-width="0.9" fill="none"/>
<rect x="535.26" y="437.50" width="3.64" height="0.70" fill="#cd6c88"/>
<path d="M535.26 437.50V438.20M538.90 437.50V438.20" stroke="#9c878f" stroke-width="1.4" fill="none"/>
<path d="M534.96 438.20H539.20" stroke="#8e4a60" stroke-width="0.9" fill="none"/>
<rect x="535.26" y="438.20" width="3.64" height="0.63" fill="#dd9bae"/>
<path d="M535.26 438.20V438.83M538.90 438.20V438.83" stroke="#aa979e" stroke-width="1.4" fill="none"/>
<path d="M534.96 438.83H539.20" stroke="#a07080" stroke-width="0.9" fill="none"/>
<rect x="538.90" y="393.70" width="3.64" height="43.80" fill="#b5305a"/>
<path d="M538.90 393.70V437.50M542.54 393.70V437.50" stroke="#8f7b83" stroke-width="1.4" fill="none"/>
<path d="M538.60 393.70H542.84" stroke="#6e2440" stroke-width="0.9" fill="none"/>
<rect x="538.90" y="437.50" width="3.64" height="1.40" fill="#cd6c88"/>
<path d="M538.90 437.50V438.90M542.54 437.50V438.90" stroke="#9c878f" stroke-width="1.4" fill="none"/>
<path d="M538.60 438.90H542.84" stroke="#8e4a60" stroke-width="0.9" fill="none"/>
<rect x="538.90" y="438.90" width="3.64" height="0.86" fill="#dd9bae"/>
<path d="M538.90 438.90V439.76M542.54 438.90V439.76" stroke="#aa979e" stroke-width="1.4" fill="none"/>
<path d="M538.60 439.76H542.84" stroke="#a07080" stroke-width="0.9" fill="none"/>
<rect x="542.54" y="396.90" width="3.64" height="40.60" fill="#b5305a"/>
<path d="M542.54 396.90V437.50M546.18 396.90V437.50" stroke="#8f7b83" stroke-width="1.4" fill="none"/>
<path d="M542.24 396.90H546.48" stroke="#6e2440" stroke-width="0.9" fill="none"/>
<rect x="542.54" y="437.50" width="3.64" height="5.90" fill="#cd6c88"/>
<path d="M542.54 437.50V443.40M546.18 437.50V443.40" stroke="#9c878f" stroke-width="1.4" fill="none"/>
<path d="M542.24 443.40H546.48" stroke="#8e4a60" stroke-width="0.9" fill="none"/>
<rect x="542.54" y="443.40" width="3.64" height="0.73" fill="#dd9bae"/>
<path d="M542.54 443.40V444.13M546.18 443.40V444.13" stroke="#aa979e" stroke-width="1.4" fill="none"/>
<path d="M542.24 444.13H546.48" stroke="#a07080" stroke-width="0.9" fill="none"/>
<rect x="546.18" y="399.30" width="3.64" height="38.20" fill="#b5305a"/>
<path d="M546.18 399.30V437.50M549.82 399.30V437.50" stroke="#8f7b83" stroke-width="1.4" fill="none"/>
<path d="M545.88 399.30H550.12" stroke="#6e2440" stroke-width="0.9" fill="none"/>
<rect x="546.18" y="437.50" width="3.64" height="8.20" fill="#cd6c88"/>
<path d="M546.18 437.50V445.70M549.82 437.50V445.70" stroke="#9c878f" stroke-width="1.4" fill="none"/>
<path d="M545.88 445.70H550.12" stroke="#8e4a60" stroke-width="0.9" fill="none"/>
<rect x="549.82" y="402.20" width="3.64" height="35.30" fill="#b5305a"/>
<path d="M549.82 402.20V437.50M553.46 402.20V437.50" stroke="#8f7b83" stroke-width="1.4" fill="none"/>
<path d="M549.52 402.20H553.76" stroke="#6e2440" stroke-width="0.9" fill="none"/>
<rect x="549.82" y="437.50" width="3.64" height="7.90" fill="#cd6c88"/>
<path d="M549.82 437.50V445.40M553.46 437.50V445.40" stroke="#9c878f" stroke-width="1.4" fill="none"/>
<path d="M549.52 445.40H553.76" stroke="#8e4a60" stroke-width="0.9" fill="none"/>
<rect x="553.46" y="402.20" width="3.64" height="35.30" fill="#b5305a"/>
<path d="M553.46 402.20V437.50M557.10 402.20V437.50" stroke="#8f7b83" stroke-width="1.4" fill="none"/>
<path d="M553.16 402.20H557.40" stroke="#6e2440" stroke-width="0.9" fill="none"/>
<rect x="553.46" y="437.50" width="3.64" height="8.40" fill="#cd6c88"/>
<path d="M553.46 437.50V445.90M557.10 437.50V445.90" stroke="#9c878f" stroke-width="1.4" fill="none"/>
<path d="M553.16 445.90H557.40" stroke="#8e4a60" stroke-width="0.9" fill="none"/>
<rect x="553.46" y="401.85" width="3.64" height="0.35" fill="#dd9bae"/>
<path d="M553.46 401.85V402.20M557.10 401.85V402.20" stroke="#aa979e" stroke-width="1.4" fill="none"/>
<path d="M553.16 401.85H557.40" stroke="#a07080" stroke-width="0.9" fill="none"/>
<rect x="557.10" y="407.00" width="3.64" height="30.50" fill="#b5305a"/>
<path d="M557.10 407.00V437.50M560.74 407.00V437.50" stroke="#8f7b83" stroke-width="1.4" fill="none"/>
<path d="M556.80 407.00H561.04" stroke="#6e2440" stroke-width="0.9" fill="none"/>
<rect x="557.10" y="437.50" width="3.64" height="10.60" fill="#cd6c88"/>
<path d="M557.10 437.50V448.10M560.74 437.50V448.10" stroke="#9c878f" stroke-width="1.4" fill="none"/>
<path d="M556.80 448.10H561.04" stroke="#8e4a60" stroke-width="0.9" fill="none"/>
<rect x="557.10" y="406.46" width="3.64" height="0.54" fill="#dd9bae"/>
<path d="M557.10 406.46V407.00M560.74 406.46V407.00" stroke="#aa979e" stroke-width="1.4" fill="none"/>
<path d="M556.80 406.46H561.04" stroke="#a07080" stroke-width="0.9" fill="none"/>
<rect x="560.74" y="405.90" width="3.64" height="31.60" fill="#b5305a"/>
<path d="M560.74 405.90V437.50M564.38 405.90V437.50" stroke="#8f7b83" stroke-width="1.4" fill="none"/>
<path d="M560.44 405.90H564.68" stroke="#6e2440" stroke-width="0.9" fill="none"/>
<rect x="560.74" y="437.50" width="3.64" height="9.10" fill="#cd6c88"/>
<path d="M560.74 437.50V446.60M564.38 437.50V446.60" stroke="#9c878f" stroke-width="1.4" fill="none"/>
<path d="M560.44 446.60H564.68" stroke="#8e4a60" stroke-width="0.9" fill="none"/>
<rect x="560.74" y="404.54" width="3.64" height="1.36" fill="#dd9bae"/>
<path d="M560.74 404.54V405.90M564.38 404.54V405.90" stroke="#aa979e" stroke-width="1.4" fill="none"/>
<path d="M560.44 404.54H564.68" stroke="#a07080" stroke-width="0.9" fill="none"/>
<rect x="564.38" y="407.00" width="3.64" height="30.50" fill="#b5305a"/>
<path d="M564.38 407.00V437.50M568.02 407.00V437.50" stroke="#8f7b83" stroke-width="1.4" fill="none"/>
<path d="M564.08 407.00H568.32" stroke="#6e2440" stroke-width="0.9" fill="none"/>
<rect x="564.38" y="437.50" width="3.64" height="4.50" fill="#cd6c88"/>
<path d="M564.38 437.50V442.00M568.02 437.50V442.00" stroke="#9c878f" stroke-width="1.4" fill="none"/>
<path d="M564.08 442.00H568.32" stroke="#8e4a60" stroke-width="0.9" fill="none"/>
<rect x="564.38" y="404.70" width="3.64" height="2.30" fill="#dd9bae"/>
<path d="M564.38 404.70V407.00M568.02 404.70V407.00" stroke="#aa979e" stroke-width="1.4" fill="none"/>
<path d="M564.08 404.70H568.32" stroke="#a07080" stroke-width="0.9" fill="none"/>
<rect x="568.02" y="407.60" width="3.64" height="29.90" fill="#b5305a"/>
<path d="M568.02 407.60V437.50M571.66 407.60V437.50" stroke="#8f7b83" stroke-width="1.4" fill="none"/>
<path d="M567.72 407.60H571.96" stroke="#6e2440" stroke-width="0.9" fill="none"/>
<rect x="568.02" y="437.50" width="3.64" height="3.50" fill="#cd6c88"/>
<path d="M568.02 437.50V441.00M571.66 437.50V441.00" stroke="#9c878f" stroke-width="1.4" fill="none"/>
<path d="M567.72 441.00H571.96" stroke="#8e4a60" stroke-width="0.9" fill="none"/>
<rect x="568.02" y="406.25" width="3.64" height="1.35" fill="#dd9bae"/>
<path d="M568.02 406.25V407.60M571.66 406.25V407.60" stroke="#aa979e" stroke-width="1.4" fill="none"/>
<path d="M567.72 406.25H571.96" stroke="#a07080" stroke-width="0.9" fill="none"/>
<rect x="571.66" y="408.40" width="3.64" height="29.10" fill="#b5305a"/>
<path d="M571.66 408.40V437.50M575.30 408.40V437.50" stroke="#8f7b83" stroke-width="1.4" fill="none"/>
<path d="M571.36 408.40H575.60" stroke="#6e2440" stroke-width="0.9" fill="none"/>
<rect x="571.66" y="437.50" width="3.64" height="2.60" fill="#cd6c88"/>
<path d="M571.66 437.50V440.10M575.30 437.50V440.10" stroke="#9c878f" stroke-width="1.4" fill="none"/>
<path d="M571.36 440.10H575.60" stroke="#8e4a60" stroke-width="0.9" fill="none"/>
<rect x="571.66" y="406.83" width="3.64" height="1.57" fill="#dd9bae"/>
<path d="M571.66 406.83V408.40M575.30 406.83V408.40" stroke="#aa979e" stroke-width="1.4" fill="none"/>
<path d="M571.36 406.83H575.60" stroke="#a07080" stroke-width="0.9" fill="none"/>
<rect x="575.30" y="409.50" width="3.64" height="28.00" fill="#b5305a"/>
<path d="M575.30 409.50V437.50M578.94 409.50V437.50" stroke="#8f7b83" stroke-width="1.4" fill="none"/>
<path d="M575.00 409.50H579.24" stroke="#6e2440" stroke-width="0.9" fill="none"/>
<rect x="575.30" y="408.89" width="3.64" height="0.61" fill="#cd6c88"/>
<path d="M575.30 408.89V409.50M578.94 408.89V409.50" stroke="#9c878f" stroke-width="1.4" fill="none"/>
<path d="M575.00 408.89H579.24" stroke="#8e4a60" stroke-width="0.9" fill="none"/>
<rect x="575.30" y="408.48" width="3.64" height="0.41" fill="#dd9bae"/>
<path d="M575.30 408.48V408.89M578.94 408.48V408.89" stroke="#aa979e" stroke-width="1.4" fill="none"/>
<path d="M575.00 408.48H579.24" stroke="#a07080" stroke-width="0.9" fill="none"/>
<rect x="578.94" y="411.00" width="3.64" height="26.50" fill="#b5305a"/>
<path d="M578.94 411.00V437.50M582.58 411.00V437.50" stroke="#8f7b83" stroke-width="1.4" fill="none"/>
<path d="M578.64 411.00H582.88" stroke="#6e2440" stroke-width="0.9" fill="none"/>
<rect x="578.94" y="409.59" width="3.64" height="1.41" fill="#cd6c88"/>
<path d="M578.94 409.59V411.00M582.58 409.59V411.00" stroke="#9c878f" stroke-width="1.4" fill="none"/>
<path d="M578.64 409.59H582.88" stroke="#8e4a60" stroke-width="0.9" fill="none"/>
<rect x="582.58" y="412.40" width="3.64" height="25.10" fill="#b5305a"/>
<path d="M582.58 412.40V437.50M586.22 412.40V437.50" stroke="#8f7b83" stroke-width="1.4" fill="none"/>
<path d="M582.28 412.40H586.52" stroke="#6e2440" stroke-width="0.9" fill="none"/>
<rect x="582.58" y="410.67" width="3.64" height="1.73" fill="#cd6c88"/>
<path d="M582.58 410.67V412.40M586.22 410.67V412.40" stroke="#9c878f" stroke-width="1.4" fill="none"/>
<path d="M582.28 410.67H586.52" stroke="#8e4a60" stroke-width="0.9" fill="none"/>
<rect x="582.58" y="410.26" width="3.64" height="0.41" fill="#dd9bae"/>
<path d="M582.58 410.26V410.67M586.22 410.26V410.67" stroke="#aa979e" stroke-width="1.4" fill="none"/>
<path d="M582.28 410.26H586.52" stroke="#a07080" stroke-width="0.9" fill="none"/>
<rect x="586.22" y="413.40" width="3.64" height="24.10" fill="#b5305a"/>
<path d="M586.22 413.40V437.50M589.86 413.40V437.50" stroke="#8f7b83" stroke-width="1.4" fill="none"/>
<path d="M585.92 413.40H590.16" stroke="#6e2440" stroke-width="0.9" fill="none"/>
<rect x="586.22" y="410.74" width="3.64" height="2.66" fill="#cd6c88"/>
<path d="M586.22 410.74V413.40M589.86 410.74V413.40" stroke="#9c878f" stroke-width="1.4" fill="none"/>
<path d="M585.92 410.74H590.16" stroke="#8e4a60" stroke-width="0.9" fill="none"/>
<rect x="589.86" y="408.00" width="3.64" height="29.50" fill="#b5305a"/>
<path d="M589.86 408.00V437.50M593.50 408.00V437.50" stroke="#8f7b83" stroke-width="1.4" fill="none"/>
<path d="M589.56 408.00H593.80" stroke="#6e2440" stroke-width="0.9" fill="none"/>
<rect x="589.86" y="405.11" width="3.64" height="2.89" fill="#cd6c88"/>
<path d="M589.86 405.11V408.00M593.50 405.11V408.00" stroke="#9c878f" stroke-width="1.4" fill="none"/>
<path d="M589.56 405.11H593.80" stroke="#8e4a60" stroke-width="0.9" fill="none"/>
<rect x="589.86" y="437.50" width="3.64" height="0.41" fill="#dd9bae"/>
<path d="M589.86 437.50V437.91M593.50 437.50V437.91" stroke="#aa979e" stroke-width="1.4" fill="none"/>
<path d="M589.56 437.91H593.80" stroke="#a07080" stroke-width="0.9" fill="none"/>
<rect x="593.50" y="404.20" width="3.64" height="33.30" fill="#b5305a"/>
<path d="M593.50 404.20V437.50M597.14 404.20V437.50" stroke="#8f7b83" stroke-width="1.4" fill="none"/>
<path d="M593.20 404.20H597.44" stroke="#6e2440" stroke-width="0.9" fill="none"/>
<rect x="593.50" y="401.74" width="3.64" height="2.46" fill="#cd6c88"/>
<path d="M593.50 401.74V404.20M597.14 401.74V404.20" stroke="#9c878f" stroke-width="1.4" fill="none"/>
<path d="M593.20 401.74H597.44" stroke="#8e4a60" stroke-width="0.9" fill="none"/>
<rect x="593.50" y="437.50" width="3.64" height="0.94" fill="#dd9bae"/>
<path d="M593.50 437.50V438.44M597.14 437.50V438.44" stroke="#aa979e" stroke-width="1.4" fill="none"/>
<path d="M593.20 438.44H597.44" stroke="#a07080" stroke-width="0.9" fill="none"/>
<rect x="597.14" y="404.70" width="3.64" height="32.80" fill="#b5305a"/>
<path d="M597.14 404.70V437.50M600.78 404.70V437.50" stroke="#8f7b83" stroke-width="1.4" fill="none"/>
<path d="M596.84 404.70H601.08" stroke="#6e2440" stroke-width="0.9" fill="none"/>
<rect x="597.14" y="404.00" width="3.64" height="0.70" fill="#cd6c88"/>
<path d="M597.14 404.00V404.70M600.78 404.00V404.70" stroke="#9c878f" stroke-width="1.4" fill="none"/>
<path d="M596.84 404.00H601.08" stroke="#8e4a60" stroke-width="0.9" fill="none"/>
<rect x="597.14" y="437.50" width="3.64" height="1.47" fill="#dd9bae"/>
<path d="M597.14 437.50V438.97M600.78 437.50V438.97" stroke="#aa979e" stroke-width="1.4" fill="none"/>
<path d="M596.84 438.97H601.08" stroke="#a07080" stroke-width="0.9" fill="none"/>
<rect x="600.78" y="407.60" width="3.64" height="29.90" fill="#b5305a"/>
<path d="M600.78 407.60V437.50M604.42 407.60V437.50" stroke="#8f7b83" stroke-width="1.4" fill="none"/>
<path d="M600.48 407.60H604.72" stroke="#6e2440" stroke-width="0.9" fill="none"/>
<rect x="600.78" y="437.73" width="3.64" height="1.27" fill="#dd9bae"/>
<path d="M600.78 437.73V439.00M604.42 437.73V439.00" stroke="#aa979e" stroke-width="1.4" fill="none"/>
<path d="M600.48 439.00H604.72" stroke="#a07080" stroke-width="0.9" fill="none"/>
<rect x="604.42" y="408.10" width="3.64" height="29.40" fill="#b5305a"/>
<path d="M604.42 408.10V437.50M608.06 408.10V437.50" stroke="#8f7b83" stroke-width="1.4" fill="none"/>
<path d="M604.12 408.10H608.36" stroke="#6e2440" stroke-width="0.9" fill="none"/>
<rect x="604.42" y="437.50" width="3.64" height="1.50" fill="#cd6c88"/>
<path d="M604.42 437.50V439.00M608.06 437.50V439.00" stroke="#9c878f" stroke-width="1.4" fill="none"/>
<path d="M604.12 439.00H608.36" stroke="#8e4a60" stroke-width="0.9" fill="none"/>
<rect x="604.42" y="439.00" width="3.64" height="2.90" fill="#dd9bae"/>
<path d="M604.42 439.00V441.90M608.06 439.00V441.90" stroke="#aa979e" stroke-width="1.4" fill="none"/>
<path d="M604.12 441.90H608.36" stroke="#a07080" stroke-width="0.9" fill="none"/>
<rect x="608.06" y="407.10" width="3.64" height="30.40" fill="#b5305a"/>
<path d="M608.06 407.10V437.50M611.70 407.10V437.50" stroke="#8f7b83" stroke-width="1.4" fill="none"/>
<path d="M607.76 407.10H612.00" stroke="#6e2440" stroke-width="0.9" fill="none"/>
<rect x="608.06" y="437.50" width="3.64" height="2.55" fill="#cd6c88"/>
<path d="M608.06 437.50V440.05M611.70 437.50V440.05" stroke="#9c878f" stroke-width="1.4" fill="none"/>
<path d="M607.76 440.05H612.00" stroke="#8e4a60" stroke-width="0.9" fill="none"/>
<rect x="608.06" y="440.05" width="3.64" height="4.25" fill="#dd9bae"/>
<path d="M608.06 440.05V444.30M611.70 440.05V444.30" stroke="#aa979e" stroke-width="1.4" fill="none"/>
<path d="M607.76 444.30H612.00" stroke="#a07080" stroke-width="0.9" fill="none"/>
<rect x="611.70" y="409.00" width="3.64" height="28.50" fill="#b5305a"/>
<path d="M611.70 409.00V437.50M615.34 409.00V437.50" stroke="#8f7b83" stroke-width="1.4" fill="none"/>
<path d="M611.40 409.00H615.64" stroke="#6e2440" stroke-width="0.9" fill="none"/>
<rect x="611.70" y="437.50" width="3.64" height="2.24" fill="#cd6c88"/>
<path d="M611.70 437.50V439.74M615.34 437.50V439.74" stroke="#9c878f" stroke-width="1.4" fill="none"/>
<path d="M611.40 439.74H615.64" stroke="#8e4a60" stroke-width="0.9" fill="none"/>
<rect x="611.70" y="439.74" width="3.64" height="4.06" fill="#dd9bae"/>
<path d="M611.70 439.74V443.80M615.34 439.74V443.80" stroke="#aa979e" stroke-width="1.4" fill="none"/>
<path d="M611.40 443.80H615.64" stroke="#a07080" stroke-width="0.9" fill="none"/>
<rect x="615.34" y="409.00" width="3.64" height="28.50" fill="#b5305a"/>
<path d="M615.34 409.00V437.50M618.98 409.00V437.50" stroke="#8f7b83" stroke-width="1.4" fill="none"/>
<path d="M615.04 409.00H619.28" stroke="#6e2440" stroke-width="0.9" fill="none"/>
<rect x="615.34" y="437.50" width="3.64" height="3.40" fill="#cd6c88"/>
<path d="M615.34 437.50V440.90M618.98 437.50V440.90" stroke="#9c878f" stroke-width="1.4" fill="none"/>
<path d="M615.04 440.90H619.28" stroke="#8e4a60" stroke-width="0.9" fill="none"/>
<rect x="615.34" y="440.90" width="3.64" height="5.80" fill="#dd9bae"/>
<path d="M615.34 440.90V446.70M618.98 440.90V446.70" stroke="#aa979e" stroke-width="1.4" fill="none"/>
<path d="M615.04 446.70H619.28" stroke="#a07080" stroke-width="0.9" fill="none"/>
<rect x="618.98" y="409.50" width="3.64" height="28.00" fill="#b5305a"/>
<path d="M618.98 409.50V437.50M622.62 409.50V437.50" stroke="#8f7b83" stroke-width="1.4" fill="none"/>
<path d="M618.68 409.50H622.92" stroke="#6e2440" stroke-width="0.9" fill="none"/>
<rect x="618.98" y="437.50" width="3.64" height="4.40" fill="#cd6c88"/>
<path d="M618.98 437.50V441.90M622.62 437.50V441.90" stroke="#9c878f" stroke-width="1.4" fill="none"/>
<path d="M618.68 441.90H622.92" stroke="#8e4a60" stroke-width="0.9" fill="none"/>
<rect x="618.98" y="441.90" width="3.64" height="6.30" fill="#dd9bae"/>
<path d="M618.98 441.90V448.20M622.62 441.90V448.20" stroke="#aa979e" stroke-width="1.4" fill="none"/>
<path d="M618.68 448.20H622.92" stroke="#a07080" stroke-width="0.9" fill="none"/>
<rect x="622.62" y="414.30" width="3.64" height="23.20" fill="#b5305a"/>
<path d="M622.62 414.30V437.50M626.26 414.30V437.50" stroke="#8f7b83" stroke-width="1.4" fill="none"/>
<path d="M622.32 414.30H626.56" stroke="#6e2440" stroke-width="0.9" fill="none"/>
<rect x="622.62" y="437.50" width="3.64" height="5.90" fill="#cd6c88"/>
<path d="M622.62 437.50V443.40M626.26 437.50V443.40" stroke="#9c878f" stroke-width="1.4" fill="none"/>
<path d="M622.32 443.40H626.56" stroke="#8e4a60" stroke-width="0.9" fill="none"/>
<rect x="622.62" y="443.40" width="3.64" height="5.80" fill="#dd9bae"/>
<path d="M622.62 443.40V449.20M626.26 443.40V449.20" stroke="#aa979e" stroke-width="1.4" fill="none"/>
<path d="M622.32 449.20H626.56" stroke="#a07080" stroke-width="0.9" fill="none"/>
<rect x="626.26" y="413.20" width="3.64" height="24.30" fill="#b5305a"/>
<path d="M626.26 413.20V437.50M629.90 413.20V437.50" stroke="#8f7b83" stroke-width="1.4" fill="none"/>
<path d="M625.96 413.20H630.20" stroke="#6e2440" stroke-width="0.9" fill="none"/>
<rect x="626.26" y="437.50" width="3.64" height="5.90" fill="#cd6c88"/>
<path d="M626.26 437.50V443.40M629.90 437.50V443.40" stroke="#9c878f" stroke-width="1.4" fill="none"/>
<path d="M625.96 443.40H630.20" stroke="#8e4a60" stroke-width="0.9" fill="none"/>
<rect x="626.26" y="443.40" width="3.64" height="7.70" fill="#dd9bae"/>
<path d="M626.26 443.40V451.10M629.90 443.40V451.10" stroke="#aa979e" stroke-width="1.4" fill="none"/>
<path d="M625.96 451.10H630.20" stroke="#a07080" stroke-width="0.9" fill="none"/>
<rect x="629.90" y="410.00" width="3.64" height="27.50" fill="#b5305a"/>
<path d="M629.90 410.00V437.50M633.54 410.00V437.50" stroke="#8f7b83" stroke-width="1.4" fill="none"/>
<path d="M629.60 410.00H633.84" stroke="#6e2440" stroke-width="0.9" fill="none"/>
<rect x="629.90" y="437.50" width="3.64" height="7.30" fill="#cd6c88"/>
<path d="M629.90 437.50V444.80M633.54 437.50V444.80" stroke="#9c878f" stroke-width="1.4" fill="none"/>
<path d="M629.60 444.80H633.84" stroke="#8e4a60" stroke-width="0.9" fill="none"/>
<rect x="629.90" y="444.80" width="3.64" height="6.80" fill="#dd9bae"/>
<path d="M629.90 444.80V451.60M633.54 444.80V451.60" stroke="#aa979e" stroke-width="1.4" fill="none"/>
<path d="M629.60 451.60H633.84" stroke="#a07080" stroke-width="0.9" fill="none"/>
<rect x="633.54" y="409.30" width="3.64" height="28.20" fill="#b5305a"/>
<path d="M633.54 409.30V437.50M637.18 409.30V437.50" stroke="#8f7b83" stroke-width="1.4" fill="none"/>
<path d="M633.24 409.30H637.48" stroke="#6e2440" stroke-width="0.9" fill="none"/>
<rect x="633.54" y="437.50" width="3.64" height="7.80" fill="#cd6c88"/>
<path d="M633.54 437.50V445.30M637.18 437.50V445.30" stroke="#9c878f" stroke-width="1.4" fill="none"/>
<path d="M633.24 445.30H637.48" stroke="#8e4a60" stroke-width="0.9" fill="none"/>
<rect x="633.54" y="445.30" width="3.64" height="6.80" fill="#dd9bae"/>
<path d="M633.54 445.30V452.10M637.18 445.30V452.10" stroke="#aa979e" stroke-width="1.4" fill="none"/>
<path d="M633.24 452.10H637.48" stroke="#a07080" stroke-width="0.9" fill="none"/>
<rect x="637.18" y="410.50" width="3.64" height="27.00" fill="#b5305a"/>
<path d="M637.18 410.50V437.50M640.82 410.50V437.50" stroke="#8f7b83" stroke-width="1.4" fill="none"/>
<path d="M636.88 410.50H641.12" stroke="#6e2440" stroke-width="0.9" fill="none"/>
<rect x="637.18" y="437.50" width="3.64" height="6.80" fill="#cd6c88"/>
<path d="M637.18 437.50V444.30M640.82 437.50V444.30" stroke="#9c878f" stroke-width="1.4" fill="none"/>
<path d="M636.88 444.30H641.12" stroke="#8e4a60" stroke-width="0.9" fill="none"/>
<rect x="637.18" y="444.30" width="3.64" height="6.80" fill="#dd9bae"/>
<path d="M637.18 444.30V451.10M640.82 444.30V451.10" stroke="#aa979e" stroke-width="1.4" fill="none"/>
<path d="M636.88 451.10H641.12" stroke="#a07080" stroke-width="0.9" fill="none"/>
<rect x="640.82" y="411.20" width="3.64" height="26.30" fill="#b5305a"/>
<path d="M640.82 411.20V437.50M644.46 411.20V437.50" stroke="#8f7b83" stroke-width="1.4" fill="none"/>
<path d="M640.52 411.20H644.76" stroke="#6e2440" stroke-width="0.9" fill="none"/>
<rect x="640.82" y="437.50" width="3.64" height="6.30" fill="#cd6c88"/>
<path d="M640.82 437.50V443.80M644.46 437.50V443.80" stroke="#9c878f" stroke-width="1.4" fill="none"/>
<path d="M640.52 443.80H644.76" stroke="#8e4a60" stroke-width="0.9" fill="none"/>
<rect x="640.82" y="443.80" width="3.64" height="7.10" fill="#dd9bae"/>
<path d="M640.82 443.80V450.90M644.46 443.80V450.90" stroke="#aa979e" stroke-width="1.4" fill="none"/>
<path d="M640.52 450.90H644.76" stroke="#a07080" stroke-width="0.9" fill="none"/>
<rect x="644.46" y="411.20" width="3.64" height="26.30" fill="#b5305a"/>
<path d="M644.46 411.20V437.50M648.10 411.20V437.50" stroke="#8f7b83" stroke-width="1.4" fill="none"/>
<path d="M644.16 411.20H648.40" stroke="#6e2440" stroke-width="0.9" fill="none"/>
<rect x="644.46" y="437.50" width="3.64" height="6.80" fill="#cd6c88"/>
<path d="M644.46 437.50V444.30M648.10 437.50V444.30" stroke="#9c878f" stroke-width="1.4" fill="none"/>
<path d="M644.16 444.30H648.40" stroke="#8e4a60" stroke-width="0.9" fill="none"/>
<rect x="644.46" y="444.30" width="3.64" height="7.30" fill="#dd9bae"/>
<path d="M644.46 444.30V451.60M648.10 444.30V451.60" stroke="#aa979e" stroke-width="1.4" fill="none"/>
<path d="M644.16 451.60H648.40" stroke="#a07080" stroke-width="0.9" fill="none"/>
<rect x="648.10" y="408.30" width="3.64" height="29.20" fill="#b5305a"/>
<path d="M648.10 408.30V437.50M651.74 408.30V437.50" stroke="#8f7b83" stroke-width="1.4" fill="none"/>
<path d="M647.80 408.30H652.04" stroke="#6e2440" stroke-width="0.9" fill="none"/>
<rect x="648.10" y="437.50" width="3.64" height="7.30" fill="#cd6c88"/>
<path d="M648.10 437.50V444.80M651.74 437.50V444.80" stroke="#9c878f" stroke-width="1.4" fill="none"/>
<path d="M647.80 444.80H652.04" stroke="#8e4a60" stroke-width="0.9" fill="none"/>
<rect x="648.10" y="444.80" width="3.64" height="7.30" fill="#dd9bae"/>
<path d="M648.10 444.80V452.10M651.74 444.80V452.10" stroke="#aa979e" stroke-width="1.4" fill="none"/>
<path d="M647.80 452.10H652.04" stroke="#a07080" stroke-width="0.9" fill="none"/>
<rect x="651.74" y="408.50" width="3.64" height="29.00" fill="#b5305a"/>
<path d="M651.74 408.50V437.50M655.38 408.50V437.50" stroke="#8f7b83" stroke-width="1.4" fill="none"/>
<path d="M651.44 408.50H655.68" stroke="#6e2440" stroke-width="0.9" fill="none"/>
<rect x="651.74" y="437.50" width="3.64" height="10.20" fill="#cd6c88"/>
<path d="M651.74 437.50V447.70M655.38 437.50V447.70" stroke="#9c878f" stroke-width="1.4" fill="none"/>
<path d="M651.44 447.70H655.68" stroke="#8e4a60" stroke-width="0.9" fill="none"/>
<rect x="651.74" y="447.70" width="3.64" height="9.20" fill="#dd9bae"/>
<path d="M651.74 447.70V456.90M655.38 447.70V456.90" stroke="#aa979e" stroke-width="1.4" fill="none"/>
<path d="M651.44 456.90H655.68" stroke="#a07080" stroke-width="0.9" fill="none"/>
<rect x="655.38" y="406.30" width="3.64" height="31.20" fill="#b5305a"/>
<path d="M655.38 406.30V437.50M659.02 406.30V437.50" stroke="#8f7b83" stroke-width="1.4" fill="none"/>
<path d="M655.08 406.30H659.32" stroke="#6e2440" stroke-width="0.9" fill="none"/>
<rect x="655.38" y="437.50" width="3.64" height="13.80" fill="#cd6c88"/>
<path d="M655.38 437.50V451.30M659.02 437.50V451.30" stroke="#9c878f" stroke-width="1.4" fill="none"/>
<path d="M655.08 451.30H659.32" stroke="#8e4a60" stroke-width="0.9" fill="none"/>
<rect x="655.38" y="451.30" width="3.64" height="9.40" fill="#dd9bae"/>
<path d="M655.38 451.30V460.70M659.02 451.30V460.70" stroke="#aa979e" stroke-width="1.4" fill="none"/>
<path d="M655.08 460.70H659.32" stroke="#a07080" stroke-width="0.9" fill="none"/>
<rect x="659.02" y="406.90" width="3.64" height="30.60" fill="#b5305a"/>
<path d="M659.02 406.90V437.50M662.66 406.90V437.50" stroke="#8f7b83" stroke-width="1.4" fill="none"/>
<path d="M658.72 406.90H662.96" stroke="#6e2440" stroke-width="0.9" fill="none"/>
<rect x="659.02" y="437.50" width="3.64" height="14.80" fill="#cd6c88"/>
<path d="M659.02 437.50V452.30M662.66 437.50V452.30" stroke="#9c878f" stroke-width="1.4" fill="none"/>
<path d="M658.72 452.30H662.96" stroke="#8e4a60" stroke-width="0.9" fill="none"/>
<rect x="659.02" y="452.30" width="3.64" height="8.80" fill="#dd9bae"/>
<path d="M659.02 452.30V461.10M662.66 452.30V461.10" stroke="#aa979e" stroke-width="1.4" fill="none"/>
<path d="M658.72 461.10H662.96" stroke="#a07080" stroke-width="0.9" fill="none"/>
<rect x="662.66" y="405.60" width="3.64" height="31.90" fill="#b5305a"/>
<path d="M662.66 405.60V437.50M666.30 405.60V437.50" stroke="#8f7b83" stroke-width="1.4" fill="none"/>
<path d="M662.36 405.60H666.60" stroke="#6e2440" stroke-width="0.9" fill="none"/>
<rect x="662.66" y="437.50" width="3.64" height="16.30" fill="#cd6c88"/>
<path d="M662.66 437.50V453.80M666.30 437.50V453.80" stroke="#9c878f" stroke-width="1.4" fill="none"/>
<path d="M662.36 453.80H666.60" stroke="#8e4a60" stroke-width="0.9" fill="none"/>
<rect x="662.66" y="453.80" width="3.64" height="9.20" fill="#dd9bae"/>
<path d="M662.66 453.80V463.00M666.30 453.80V463.00" stroke="#aa979e" stroke-width="1.4" fill="none"/>
<path d="M662.36 463.00H666.60" stroke="#a07080" stroke-width="0.9" fill="none"/>
<rect x="666.30" y="404.90" width="3.64" height="32.60" fill="#b5305a"/>
<path d="M666.30 404.90V437.50M669.94 404.90V437.50" stroke="#8f7b83" stroke-width="1.4" fill="none"/>
<path d="M666.00 404.90H670.24" stroke="#6e2440" stroke-width="0.9" fill="none"/>
<rect x="666.30" y="437.50" width="3.64" height="17.80" fill="#cd6c88"/>
<path d="M666.30 437.50V455.30M669.94 437.50V455.30" stroke="#9c878f" stroke-width="1.4" fill="none"/>
<path d="M666.00 455.30H670.24" stroke="#8e4a60" stroke-width="0.9" fill="none"/>
<rect x="666.30" y="455.30" width="3.64" height="8.40" fill="#dd9bae"/>
<path d="M666.30 455.30V463.70M669.94 455.30V463.70" stroke="#aa979e" stroke-width="1.4" fill="none"/>
<path d="M666.00 463.70H670.24" stroke="#a07080" stroke-width="0.9" fill="none"/>
<rect x="669.94" y="404.10" width="3.64" height="33.40" fill="#b5305a"/>
<path d="M669.94 404.10V437.50M673.58 404.10V437.50" stroke="#8f7b83" stroke-width="1.4" fill="none"/>
<path d="M669.64 404.10H673.88" stroke="#6e2440" stroke-width="0.9" fill="none"/>
<rect x="669.94" y="437.50" width="3.64" height="20.90" fill="#cd6c88"/>
<path d="M669.94 437.50V458.40M673.58 437.50V458.40" stroke="#9c878f" stroke-width="1.4" fill="none"/>
<path d="M669.64 458.40H673.88" stroke="#8e4a60" stroke-width="0.9" fill="none"/>
<rect x="669.94" y="458.40" width="3.64" height="8.40" fill="#dd9bae"/>
<path d="M669.94 458.40V466.80M673.58 458.40V466.80" stroke="#aa979e" stroke-width="1.4" fill="none"/>
<path d="M669.64 466.80H673.88" stroke="#a07080" stroke-width="0.9" fill="none"/>
<rect x="673.58" y="394.20" width="3.64" height="43.30" fill="#b5305a"/>
<path d="M673.58 394.20V437.50M677.22 394.20V437.50" stroke="#8f7b83" stroke-width="1.4" fill="none"/>
<path d="M673.28 394.20H677.52" stroke="#6e2440" stroke-width="0.9" fill="none"/>
<rect x="673.58" y="437.50" width="3.64" height="23.20" fill="#cd6c88"/>
<path d="M673.58 437.50V460.70M677.22 437.50V460.70" stroke="#9c878f" stroke-width="1.4" fill="none"/>
<path d="M673.28 460.70H677.52" stroke="#8e4a60" stroke-width="0.9" fill="none"/>
<rect x="673.58" y="460.70" width="3.64" height="9.60" fill="#dd9bae"/>
<path d="M673.58 460.70V470.30M677.22 460.70V470.30" stroke="#aa979e" stroke-width="1.4" fill="none"/>
<path d="M673.28 470.30H677.52" stroke="#a07080" stroke-width="0.9" fill="none"/>
<rect x="677.22" y="398.80" width="3.64" height="38.70" fill="#b5305a"/>
<path d="M677.22 398.80V437.50M680.86 398.80V437.50" stroke="#8f7b83" stroke-width="1.4" fill="none"/>
<path d="M676.92 398.80H681.16" stroke="#6e2440" stroke-width="0.9" fill="none"/>
<rect x="677.22" y="437.50" width="3.64" height="23.20" fill="#cd6c88"/>
<path d="M677.22 437.50V460.70M680.86 437.50V460.70" stroke="#9c878f" stroke-width="1.4" fill="none"/>
<path d="M676.92 460.70H681.16" stroke="#8e4a60" stroke-width="0.9" fill="none"/>
<rect x="677.22" y="460.70" width="3.64" height="9.90" fill="#dd9bae"/>
<path d="M677.22 460.70V470.60M680.86 460.70V470.60" stroke="#aa979e" stroke-width="1.4" fill="none"/>
<path d="M676.92 470.60H681.16" stroke="#a07080" stroke-width="0.9" fill="none"/>
<rect x="680.86" y="393.40" width="3.64" height="44.10" fill="#b5305a"/>
<path d="M680.86 393.40V437.50M684.50 393.40V437.50" stroke="#8f7b83" stroke-width="1.4" fill="none"/>
<path d="M680.56 393.40H684.80" stroke="#6e2440" stroke-width="0.9" fill="none"/>
<rect x="680.86" y="437.50" width="3.64" height="24.00" fill="#cd6c88"/>
<path d="M680.86 437.50V461.50M684.50 437.50V461.50" stroke="#9c878f" stroke-width="1.4" fill="none"/>
<path d="M680.56 461.50H684.80" stroke="#8e4a60" stroke-width="0.9" fill="none"/>
<rect x="680.86" y="461.50" width="3.64" height="10.40" fill="#dd9bae"/>
<path d="M680.86 461.50V471.90M684.50 461.50V471.90" stroke="#aa979e" stroke-width="1.4" fill="none"/>
<path d="M680.56 471.90H684.80" stroke="#a07080" stroke-width="0.9" fill="none"/>
<rect x="684.50" y="394.20" width="3.64" height="43.30" fill="#b5305a"/>
<path d="M684.50 394.20V437.50M688.14 394.20V437.50" stroke="#8f7b83" stroke-width="1.4" fill="none"/>
<path d="M684.20 394.20H688.44" stroke="#6e2440" stroke-width="0.9" fill="none"/>
<rect x="684.50" y="437.50" width="3.64" height="25.20" fill="#cd6c88"/>
<path d="M684.50 437.50V462.70M688.14 437.50V462.70" stroke="#9c878f" stroke-width="1.4" fill="none"/>
<path d="M684.20 462.70H688.44" stroke="#8e4a60" stroke-width="0.9" fill="none"/>
<rect x="684.50" y="462.70" width="3.64" height="11.00" fill="#dd9bae"/>
<path d="M684.50 462.70V473.70M688.14 462.70V473.70" stroke="#aa979e" stroke-width="1.4" fill="none"/>
<path d="M684.20 473.70H688.44" stroke="#a07080" stroke-width="0.9" fill="none"/>
<rect x="688.14" y="394.90" width="3.64" height="42.60" fill="#b5305a"/>
<path d="M688.14 394.90V437.50M691.78 394.90V437.50" stroke="#8f7b83" stroke-width="1.4" fill="none"/>
<path d="M687.84 394.90H692.08" stroke="#6e2440" stroke-width="0.9" fill="none"/>
<rect x="688.14" y="437.50" width="3.64" height="25.80" fill="#cd6c88"/>
<path d="M688.14 437.50V463.30M691.78 437.50V463.30" stroke="#9c878f" stroke-width="1.4" fill="none"/>
<path d="M687.84 463.30H692.08" stroke="#8e4a60" stroke-width="0.9" fill="none"/>
<rect x="688.14" y="463.30" width="3.64" height="11.10" fill="#dd9bae"/>
<path d="M688.14 463.30V474.40M691.78 463.30V474.40" stroke="#aa979e" stroke-width="1.4" fill="none"/>
<path d="M687.84 474.40H692.08" stroke="#a07080" stroke-width="0.9" fill="none"/>
<rect x="691.78" y="392.30" width="3.64" height="45.20" fill="#b5305a"/>
<path d="M691.78 392.30V437.50M695.42 392.30V437.50" stroke="#8f7b83" stroke-width="1.4" fill="none"/>
<path d="M691.48 392.30H695.72" stroke="#6e2440" stroke-width="0.9" fill="none"/>
<rect x="691.78" y="437.50" width="3.64" height="26.20" fill="#cd6c88"/>
<path d="M691.78 437.50V463.70M695.42 437.50V463.70" stroke="#9c878f" stroke-width="1.4" fill="none"/>
<path d="M691.48 463.70H695.72" stroke="#8e4a60" stroke-width="0.9" fill="none"/>
<rect x="691.78" y="463.70" width="3.64" height="11.20" fill="#dd9bae"/>
<path d="M691.78 463.70V474.90M695.42 463.70V474.90" stroke="#aa979e" stroke-width="1.4" fill="none"/>
<path d="M691.48 474.90H695.72" stroke="#a07080" stroke-width="0.9" fill="none"/>
<rect x="695.42" y="397.20" width="3.64" height="40.30" fill="#b5305a"/>
<path d="M695.42 397.20V437.50M699.06 397.20V437.50" stroke="#8f7b83" stroke-width="1.4" fill="none"/>
<path d="M695.12 397.20H699.36" stroke="#6e2440" stroke-width="0.9" fill="none"/>
<rect x="695.42" y="437.50" width="3.64" height="23.20" fill="#cd6c88"/>
<path d="M695.42 437.50V460.70M699.06 437.50V460.70" stroke="#9c878f" stroke-width="1.4" fill="none"/>
<path d="M695.12 460.70H699.36" stroke="#8e4a60" stroke-width="0.9" fill="none"/>
<rect x="695.42" y="460.70" width="3.64" height="10.70" fill="#dd9bae"/>
<path d="M695.42 460.70V471.40M699.06 460.70V471.40" stroke="#aa979e" stroke-width="1.4" fill="none"/>
<path d="M695.12 471.40H699.36" stroke="#a07080" stroke-width="0.9" fill="none"/>
<rect x="699.06" y="395.70" width="3.64" height="41.80" fill="#b5305a"/>
<path d="M699.06 395.70V437.50M702.70 395.70V437.50" stroke="#8f7b83" stroke-width="1.4" fill="none"/>
<path d="M698.76 395.70H703.00" stroke="#6e2440" stroke-width="0.9" fill="none"/>
<rect x="699.06" y="437.50" width="3.64" height="21.70" fill="#cd6c88"/>
<path d="M699.06 437.50V459.20M702.70 437.50V459.20" stroke="#9c878f" stroke-width="1.4" fill="none"/>
<path d="M698.76 459.20H703.00" stroke="#8e4a60" stroke-width="0.9" fill="none"/>
<rect x="699.06" y="459.20" width="3.64" height="10.70" fill="#dd9bae"/>
<path d="M699.06 459.20V469.90M702.70 459.20V469.90" stroke="#aa979e" stroke-width="1.4" fill="none"/>
<path d="M698.76 469.90H703.00" stroke="#a07080" stroke-width="0.9" fill="none"/>
<rect x="702.70" y="395.40" width="3.64" height="42.10" fill="#b5305a"/>
<path d="M702.70 395.40V437.50M706.34 395.40V437.50" stroke="#8f7b83" stroke-width="1.4" fill="none"/>
<path d="M702.40 395.40H706.64" stroke="#6e2440" stroke-width="0.9" fill="none"/>
<rect x="702.70" y="437.50" width="3.64" height="20.10" fill="#cd6c88"/>
<path d="M702.70 437.50V457.60M706.34 437.50V457.60" stroke="#9c878f" stroke-width="1.4" fill="none"/>
<path d="M702.40 457.60H706.64" stroke="#8e4a60" stroke-width="0.9" fill="none"/>
<rect x="702.70" y="457.60" width="3.64" height="10.70" fill="#dd9bae"/>
<path d="M702.70 457.60V468.30M706.34 457.60V468.30" stroke="#aa979e" stroke-width="1.4" fill="none"/>
<path d="M702.40 468.30H706.64" stroke="#a07080" stroke-width="0.9" fill="none"/>
<rect x="706.34" y="397.20" width="3.64" height="40.30" fill="#b5305a"/>
<path d="M706.34 397.20V437.50M709.98 397.20V437.50" stroke="#8f7b83" stroke-width="1.4" fill="none"/>
<path d="M706.04 397.20H710.28" stroke="#6e2440" stroke-width="0.9" fill="none"/>
<rect x="706.34" y="437.50" width="3.64" height="20.90" fill="#cd6c88"/>
<path d="M706.34 437.50V458.40M709.98 437.50V458.40" stroke="#9c878f" stroke-width="1.4" fill="none"/>
<path d="M706.04 458.40H710.28" stroke="#8e4a60" stroke-width="0.9" fill="none"/>
<rect x="706.34" y="458.40" width="3.64" height="11.50" fill="#dd9bae"/>
<path d="M706.34 458.40V469.90M709.98 458.40V469.90" stroke="#aa979e" stroke-width="1.4" fill="none"/>
<path d="M706.04 469.90H710.28" stroke="#a07080" stroke-width="0.9" fill="none"/>
<rect x="709.98" y="398.50" width="3.64" height="39.00" fill="#b5305a"/>
<path d="M709.98 398.50V437.50M713.62 398.50V437.50" stroke="#8f7b83" stroke-width="1.4" fill="none"/>
<path d="M709.68 398.50H713.92" stroke="#6e2440" stroke-width="0.9" fill="none"/>
<rect x="709.98" y="437.50" width="3.64" height="20.10" fill="#cd6c88"/>
<path d="M709.98 437.50V457.60M713.62 437.50V457.60" stroke="#9c878f" stroke-width="1.4" fill="none"/>
<path d="M709.68 457.60H713.92" stroke="#8e4a60" stroke-width="0.9" fill="none"/>
<rect x="709.98" y="457.60" width="3.64" height="11.20" fill="#dd9bae"/>
<path d="M709.98 457.60V468.80M713.62 457.60V468.80" stroke="#aa979e" stroke-width="1.4" fill="none"/>
<path d="M709.68 468.80H713.92" stroke="#a07080" stroke-width="0.9" fill="none"/>
<rect x="713.62" y="402.30" width="3.64" height="35.20" fill="#b5305a"/>
<path d="M713.62 402.30V437.50M717.26 402.30V437.50" stroke="#8f7b83" stroke-width="1.4" fill="none"/>
<path d="M713.32 402.30H717.56" stroke="#6e2440" stroke-width="0.9" fill="none"/>
<rect x="713.62" y="437.50" width="3.64" height="17.10" fill="#cd6c88"/>
<path d="M713.62 437.50V454.60M717.26 437.50V454.60" stroke="#9c878f" stroke-width="1.4" fill="none"/>
<path d="M713.32 454.60H717.56" stroke="#8e4a60" stroke-width="0.9" fill="none"/>
<rect x="713.62" y="454.60" width="3.64" height="11.40" fill="#dd9bae"/>
<path d="M713.62 454.60V466.00M717.26 454.60V466.00" stroke="#aa979e" stroke-width="1.4" fill="none"/>
<path d="M713.32 466.00H717.56" stroke="#a07080" stroke-width="0.9" fill="none"/>
<rect x="717.26" y="415.30" width="3.64" height="22.20" fill="#b5305a"/>
<path d="M717.26 415.30V437.50M720.90 415.30V437.50" stroke="#8f7b83" stroke-width="1.4" fill="none"/>
<path d="M716.96 415.30H721.20" stroke="#6e2440" stroke-width="0.9" fill="none"/>
<rect x="717.26" y="437.50" width="3.64" height="17.80" fill="#cd6c88"/>
<path d="M717.26 437.50V455.30M720.90 437.50V455.30" stroke="#9c878f" stroke-width="1.4" fill="none"/>
<path d="M716.96 455.30H721.20" stroke="#8e4a60" stroke-width="0.9" fill="none"/>
<rect x="717.26" y="455.30" width="3.64" height="12.30" fill="#dd9bae"/>
<path d="M717.26 455.30V467.60M720.90 455.30V467.60" stroke="#aa979e" stroke-width="1.4" fill="none"/>
<path d="M716.96 467.60H721.20" stroke="#a07080" stroke-width="0.9" fill="none"/>
<rect x="720.90" y="409.50" width="3.64" height="28.00" fill="#b5305a"/>
<path d="M720.90 409.50V437.50M724.54 409.50V437.50" stroke="#8f7b83" stroke-width="1.4" fill="none"/>
<path d="M720.60 409.50H724.84" stroke="#6e2440" stroke-width="0.9" fill="none"/>
<rect x="720.90" y="437.50" width="3.64" height="17.10" fill="#cd6c88"/>
<path d="M720.90 437.50V454.60M724.54 437.50V454.60" stroke="#9c878f" stroke-width="1.4" fill="none"/>
<path d="M720.60 454.60H724.84" stroke="#8e4a60" stroke-width="0.9" fill="none"/>
<rect x="720.90" y="454.60" width="3.64" height="12.20" fill="#dd9bae"/>
<path d="M720.90 454.60V466.80M724.54 454.60V466.80" stroke="#aa979e" stroke-width="1.4" fill="none"/>
<path d="M720.60 466.80H724.84" stroke="#a07080" stroke-width="0.9" fill="none"/>
<line x1="502.50" y1="437.80" x2="764.60" y2="437.80" stroke="#969696" stroke-width="1.3"/>
<line x1="502.50" y1="437.50" x2="724.54" y2="437.50" stroke="#52182e" stroke-width="1"/>
<polyline points="504.3,367.1 508.0,366.7 511.6,370.4 515.2,369.2 518.9,375.4 522.5,381.8 526.2,388.0 529.8,390.2 533.4,392.4 537.1,392.2 540.7,395.2 544.4,403.6 548.0,408.1 551.6,411.1 555.3,410.6 558.9,417.8 562.6,414.0 566.2,410.3 569.8,411.1 573.5,410.8 577.1,410.3 580.8,408.9 584.4,411.6 588.0,409.9 591.7,404.4 595.3,401.6 599.0,406.1 602.6,409.4 606.2,412.8 609.9,414.0 613.5,415.0 617.2,417.3 620.8,419.0 624.4,426.0 628.1,424.9 631.7,423.4 635.4,423.5 639.0,424.3 642.6,424.2 646.3,424.8 649.9,423.0 653.6,427.2 657.2,430.1 660.8,430.5 664.5,430.5 668.1,430.5 671.8,434.1 675.4,426.4 679.0,431.2 682.7,426.8 686.3,428.8 690.0,430.8 693.6,429.5 697.2,430.5 700.9,428.1 704.5,425.7 708.2,429.5 711.8,429.7 715.4,431.5 719.1,444.7 722.7,439.5" fill="none" stroke="#0b449e" stroke-width="2.75" stroke-linejoin="miter" stroke-miterlimit="10"/>
<line x1="502.50" y1="114.00" x2="502.50" y2="506.50" stroke="#8e8e8e" stroke-width="1"/>
<line x1="764.60" y1="114.00" x2="764.60" y2="506.50" stroke="#8e8e8e" stroke-width="1"/>
<line x1="502.50" y1="500.90" x2="502.50" y2="505.50" stroke="#333" stroke-width="1.1"/>
<line x1="513.42" y1="502.50" x2="513.42" y2="505.50" stroke="#a8a8a8" stroke-width="1"/>
<line x1="524.34" y1="502.50" x2="524.34" y2="505.50" stroke="#a8a8a8" stroke-width="1"/>
<line x1="535.26" y1="502.50" x2="535.26" y2="505.50" stroke="#a8a8a8" stroke-width="1"/>
<line x1="546.18" y1="500.90" x2="546.18" y2="505.50" stroke="#333" stroke-width="1.1"/>
<line x1="557.10" y1="502.50" x2="557.10" y2="505.50" stroke="#a8a8a8" stroke-width="1"/>
<line x1="568.02" y1="502.50" x2="568.02" y2="505.50" stroke="#a8a8a8" stroke-width="1"/>
<line x1="578.94" y1="502.50" x2="578.94" y2="505.50" stroke="#a8a8a8" stroke-width="1"/>
<line x1="589.86" y1="500.90" x2="589.86" y2="505.50" stroke="#333" stroke-width="1.1"/>
<line x1="600.78" y1="502.50" x2="600.78" y2="505.50" stroke="#a8a8a8" stroke-width="1"/>
<line x1="611.70" y1="502.50" x2="611.70" y2="505.50" stroke="#a8a8a8" stroke-width="1"/>
<line x1="622.62" y1="502.50" x2="622.62" y2="505.50" stroke="#a8a8a8" stroke-width="1"/>
<line x1="633.54" y1="500.90" x2="633.54" y2="505.50" stroke="#333" stroke-width="1.1"/>
<line x1="644.46" y1="502.50" x2="644.46" y2="505.50" stroke="#a8a8a8" stroke-width="1"/>
<line x1="655.38" y1="502.50" x2="655.38" y2="505.50" stroke="#a8a8a8" stroke-width="1"/>
<line x1="666.30" y1="502.50" x2="666.30" y2="505.50" stroke="#a8a8a8" stroke-width="1"/>
<line x1="677.22" y1="500.90" x2="677.22" y2="505.50" stroke="#333" stroke-width="1.1"/>
<line x1="688.14" y1="502.50" x2="688.14" y2="505.50" stroke="#a8a8a8" stroke-width="1"/>
<line x1="699.06" y1="502.50" x2="699.06" y2="505.50" stroke="#a8a8a8" stroke-width="1"/>
<line x1="709.98" y1="502.50" x2="709.98" y2="505.50" stroke="#a8a8a8" stroke-width="1"/>
<line x1="720.90" y1="500.90" x2="720.90" y2="505.50" stroke="#333" stroke-width="1.1"/>
<line x1="731.82" y1="502.50" x2="731.82" y2="505.50" stroke="#a8a8a8" stroke-width="1"/>
<line x1="742.74" y1="502.50" x2="742.74" y2="505.50" stroke="#a8a8a8" stroke-width="1"/>
<line x1="753.66" y1="502.50" x2="753.66" y2="505.50" stroke="#a8a8a8" stroke-width="1"/>
<line x1="764.58" y1="500.90" x2="764.58" y2="505.50" stroke="#333" stroke-width="1.1"/>
<line x1="502.00" y1="505.90" x2="765.10" y2="505.90" stroke="#222" stroke-width="1.9"/>
<text transform="translate(487.3 508.9) scale(1.04 1)" textLength="8.5" class="ax">-8</text>
<text transform="translate(770.5 508.9) scale(1.04 1)" textLength="8.5" class="ax">-8</text>
<text transform="translate(487.3 491.9) scale(1.04 1)" textLength="8.5" class="ax">-6</text>
<text transform="translate(770.5 491.9) scale(1.04 1)" textLength="8.5" class="ax">-6</text>
<text transform="translate(487.3 474.9) scale(1.04 1)" textLength="8.5" class="ax">-4</text>
<text transform="translate(770.5 474.9) scale(1.04 1)" textLength="8.5" class="ax">-4</text>
<text transform="translate(487.3 457.9) scale(1.04 1)" textLength="8.5" class="ax">-2</text>
<text transform="translate(770.5 457.9) scale(1.04 1)" textLength="8.5" class="ax">-2</text>
<text transform="translate(490.6 440.9) scale(1.04 1)" class="ax">0</text>
<text transform="translate(773.9 440.9) scale(1.04 1)" class="ax">0</text>
<text transform="translate(490.6 423.9) scale(1.04 1)" class="ax">2</text>
<text transform="translate(773.9 423.9) scale(1.04 1)" class="ax">2</text>
<text transform="translate(490.6 406.9) scale(1.04 1)" class="ax">4</text>
<text transform="translate(773.9 406.9) scale(1.04 1)" class="ax">4</text>
<text transform="translate(490.6 389.9) scale(1.04 1)" class="ax">6</text>
<text transform="translate(773.9 389.9) scale(1.04 1)" class="ax">6</text>
<text transform="translate(490.6 372.9) scale(1.04 1)" class="ax">8</text>
<text transform="translate(773.9 372.9) scale(1.04 1)" class="ax">8</text>
<text transform="translate(485.1 355.9) scale(1.04 1)" textLength="10.7" class="ax">10</text>
<text transform="translate(773.9 355.9) scale(1.04 1)" textLength="10.7" class="ax">10</text>
<text transform="translate(485.1 338.9) scale(1.04 1)" textLength="10.7" class="ax">12</text>
<text transform="translate(773.9 338.9) scale(1.04 1)" textLength="10.7" class="ax">12</text>
<text transform="translate(485.1 321.9) scale(1.04 1)" textLength="10.7" class="ax">14</text>
<text transform="translate(773.9 321.9) scale(1.04 1)" textLength="10.7" class="ax">14</text>
<text transform="translate(485.1 304.9) scale(1.04 1)" textLength="10.7" class="ax">16</text>
<text transform="translate(773.9 304.9) scale(1.04 1)" textLength="10.7" class="ax">16</text>
<text transform="translate(485.1 287.9) scale(1.04 1)" textLength="10.7" class="ax">18</text>
<text transform="translate(773.9 287.9) scale(1.04 1)" textLength="10.7" class="ax">18</text>
<text transform="translate(485.1 270.9) scale(1.04 1)" textLength="10.7" class="ax">20</text>
<text transform="translate(773.9 270.9) scale(1.04 1)" textLength="10.7" class="ax">20</text>
<text transform="translate(485.1 253.9) scale(1.04 1)" textLength="10.7" class="ax">22</text>
<text transform="translate(773.9 253.9) scale(1.04 1)" textLength="10.7" class="ax">22</text>
<text transform="translate(485.1 236.9) scale(1.04 1)" textLength="10.7" class="ax">24</text>
<text transform="translate(773.9 236.9) scale(1.04 1)" textLength="10.7" class="ax">24</text>
<text transform="translate(485.1 219.9) scale(1.04 1)" textLength="10.7" class="ax">26</text>
<text transform="translate(773.9 219.9) scale(1.04 1)" textLength="10.7" class="ax">26</text>
<text transform="translate(485.1 202.9) scale(1.04 1)" textLength="10.7" class="ax">28</text>
<text transform="translate(773.9 202.9) scale(1.04 1)" textLength="10.7" class="ax">28</text>
<text transform="translate(485.1 185.9) scale(1.04 1)" textLength="10.7" class="ax">30</text>
<text transform="translate(773.9 185.9) scale(1.04 1)" textLength="10.7" class="ax">30</text>
<text transform="translate(485.1 168.9) scale(1.04 1)" textLength="10.7" class="ax">32</text>
<text transform="translate(773.9 168.9) scale(1.04 1)" textLength="10.7" class="ax">32</text>
<text transform="translate(485.1 150.9) scale(1.04 1)" textLength="10.7" class="ax">34</text>
<text transform="translate(773.9 150.9) scale(1.04 1)" textLength="10.7" class="ax">34</text>
<text transform="translate(485.1 133.9) scale(1.04 1)" textLength="10.7" class="ax">36</text>
<text transform="translate(773.9 133.9) scale(1.04 1)" textLength="10.7" class="ax">36</text>
<text transform="translate(485.1 117.0) scale(1.04 1)" textLength="10.7" class="ax">38</text>
<text transform="translate(773.9 117.0) scale(1.04 1)" textLength="10.7" class="ax">38</text>
<text transform="translate(513.2 516.1) scale(1.04 1)" textLength="21.4" class="ax">2009</text>
<text transform="translate(556.9 516.1) scale(1.04 1)" textLength="21.4" class="ax">2010</text>
<text transform="translate(600.9 516.1) scale(1.04 1)" textLength="20.7" class="ax">2011</text>
<text transform="translate(644.3 516.1) scale(1.04 1)" textLength="21.4" class="ax">2012</text>
<text transform="translate(687.9 516.1) scale(1.04 1)" textLength="21.4" class="ax">2013</text>
<text transform="translate(731.6 516.1) scale(1.04 1)" textLength="21.4" class="ax">2014</text>
<text transform="translate(543.3 109.8) scale(0.8 1)" class="pc">%</text>
<text transform="translate(761.3 109.8) scale(0.8 1)" class="pc">%</text>
<text transform="translate(26.8 566.0) scale(0.86 1)" textLength="70.2">FUENTE: BE.</text>
<text transform="translate(26.8 580.0) scale(0.86 1)" textLength="568.5">a. Las tasas de variación interanual se calculan como: flujo efectivo del período / saldo al principio del período.</text>
<text transform="translate(26.8 594.0) scale(0.86 1)" textLength="474.5">b. Total de pasivos (consolidados). Se deducen los pasivos entre Administraciones Públicas.</text>
<text transform="translate(26.8 608.0) scale(0.86 1)" textLength="522.4">c. Incluye los préstamos transferidos a la SAREB, que es una Sociedad de Gestión de Activos (SGA).</text>
</svg></body></html>
